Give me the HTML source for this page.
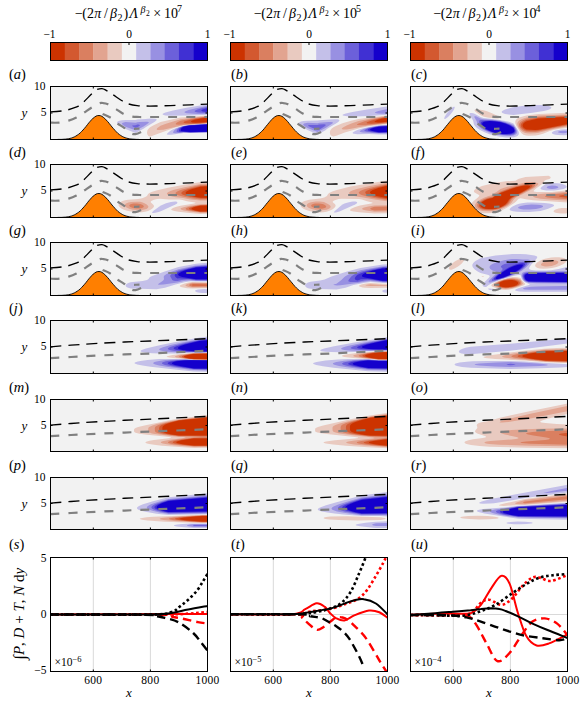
<!DOCTYPE html><html><head><meta charset="utf-8"><style>html,body{margin:0;padding:0;background:#fff;width:582px;height:703px;overflow:hidden}svg{display:block}text{font-family:"Liberation Serif",serif}</style></head><body>
<svg width="582" height="703" viewBox="0 0 582 703">
<text x="74.9" y="18.2" font-size="14">&#8722;</text>
<text x="82.3" y="18.2" font-size="14">(</text>
<text x="87.0" y="18.2" font-size="14">2</text>
<text x="94.2" y="18.2" font-size="14" font-style="italic">&#960;</text>
<text x="104.0" y="18.2" font-size="14">/</text>
<text x="110.1" y="18.2" font-size="14" font-style="italic">&#946;</text>
<text x="117.4" y="21.2" font-size="10">2</text>
<text x="123.5" y="18.2" font-size="14">)</text>
<text x="129.6" y="18.2" font-size="14" font-style="italic">&#923;</text>
<text x="140.4" y="12.7" font-size="10" font-style="italic">&#946;</text>
<text x="146.1" y="15.7" font-size="7.5">2</text>
<text x="153.3" y="18.2" font-size="14">&#215;</text>
<text x="164.1" y="18.2" font-size="14">10</text>
<text x="177.0" y="11.7" font-size="10">7</text>
<rect x="50.50" y="42.5" width="14.57" height="18.0" fill="#cc3300"/>
<rect x="64.77" y="42.5" width="14.57" height="18.0" fill="#d35930"/>
<rect x="79.05" y="42.5" width="14.57" height="18.0" fill="#da7f60"/>
<rect x="93.32" y="42.5" width="14.57" height="18.0" fill="#e2a490"/>
<rect x="107.59" y="42.5" width="14.57" height="18.0" fill="#e9cac0"/>
<rect x="121.86" y="42.5" width="14.57" height="18.0" fill="#f2f2f2"/>
<rect x="136.14" y="42.5" width="14.57" height="18.0" fill="#c4c0e9"/>
<rect x="150.41" y="42.5" width="14.57" height="18.0" fill="#9890e2"/>
<rect x="164.68" y="42.5" width="14.57" height="18.0" fill="#6c60da"/>
<rect x="178.95" y="42.5" width="14.57" height="18.0" fill="#4030d3"/>
<rect x="193.23" y="42.5" width="14.57" height="18.0" fill="#1400cc"/>
<rect x="50.5" y="42.5" width="157.0" height="18.0" fill="none" stroke="#000" stroke-width="1"/>
<line x1="129.0" y1="42.5" x2="129.0" y2="45.0" stroke="#000" stroke-width="1"/>
<text x="49.5" y="37.8" font-size="11.5" text-anchor="middle">&#8722;1</text>
<text x="129.0" y="37.8" font-size="11.5" text-anchor="middle">0</text>
<text x="207.5" y="37.8" font-size="11.5" text-anchor="middle">1</text>
<text x="253.9" y="18.2" font-size="14">&#8722;</text>
<text x="261.3" y="18.2" font-size="14">(</text>
<text x="266.0" y="18.2" font-size="14">2</text>
<text x="273.2" y="18.2" font-size="14" font-style="italic">&#960;</text>
<text x="283.0" y="18.2" font-size="14">/</text>
<text x="289.1" y="18.2" font-size="14" font-style="italic">&#946;</text>
<text x="296.4" y="21.2" font-size="10">2</text>
<text x="302.5" y="18.2" font-size="14">)</text>
<text x="308.6" y="18.2" font-size="14" font-style="italic">&#923;</text>
<text x="319.4" y="12.7" font-size="10" font-style="italic">&#946;</text>
<text x="325.1" y="15.7" font-size="7.5">2</text>
<text x="332.3" y="18.2" font-size="14">&#215;</text>
<text x="343.1" y="18.2" font-size="14">10</text>
<text x="356.0" y="11.7" font-size="10">5</text>
<rect x="230.50" y="42.5" width="14.57" height="18.0" fill="#cc3300"/>
<rect x="244.77" y="42.5" width="14.57" height="18.0" fill="#d35930"/>
<rect x="259.05" y="42.5" width="14.57" height="18.0" fill="#da7f60"/>
<rect x="273.32" y="42.5" width="14.57" height="18.0" fill="#e2a490"/>
<rect x="287.59" y="42.5" width="14.57" height="18.0" fill="#e9cac0"/>
<rect x="301.86" y="42.5" width="14.57" height="18.0" fill="#f2f2f2"/>
<rect x="316.14" y="42.5" width="14.57" height="18.0" fill="#c4c0e9"/>
<rect x="330.41" y="42.5" width="14.57" height="18.0" fill="#9890e2"/>
<rect x="344.68" y="42.5" width="14.57" height="18.0" fill="#6c60da"/>
<rect x="358.95" y="42.5" width="14.57" height="18.0" fill="#4030d3"/>
<rect x="373.23" y="42.5" width="14.57" height="18.0" fill="#1400cc"/>
<rect x="230.5" y="42.5" width="157.0" height="18.0" fill="none" stroke="#000" stroke-width="1"/>
<line x1="309.0" y1="42.5" x2="309.0" y2="45.0" stroke="#000" stroke-width="1"/>
<text x="229.5" y="37.8" font-size="11.5" text-anchor="middle">&#8722;1</text>
<text x="309.0" y="37.8" font-size="11.5" text-anchor="middle">0</text>
<text x="387.5" y="37.8" font-size="11.5" text-anchor="middle">1</text>
<text x="433.4" y="18.2" font-size="14">&#8722;</text>
<text x="440.8" y="18.2" font-size="14">(</text>
<text x="445.5" y="18.2" font-size="14">2</text>
<text x="452.7" y="18.2" font-size="14" font-style="italic">&#960;</text>
<text x="462.5" y="18.2" font-size="14">/</text>
<text x="468.6" y="18.2" font-size="14" font-style="italic">&#946;</text>
<text x="475.9" y="21.2" font-size="10">2</text>
<text x="482.0" y="18.2" font-size="14">)</text>
<text x="488.1" y="18.2" font-size="14" font-style="italic">&#923;</text>
<text x="498.9" y="12.7" font-size="10" font-style="italic">&#946;</text>
<text x="504.6" y="15.7" font-size="7.5">2</text>
<text x="511.8" y="18.2" font-size="14">&#215;</text>
<text x="522.6" y="18.2" font-size="14">10</text>
<text x="535.5" y="11.7" font-size="10">4</text>
<rect x="410.50" y="42.5" width="14.57" height="18.0" fill="#cc3300"/>
<rect x="424.77" y="42.5" width="14.57" height="18.0" fill="#d35930"/>
<rect x="439.05" y="42.5" width="14.57" height="18.0" fill="#da7f60"/>
<rect x="453.32" y="42.5" width="14.57" height="18.0" fill="#e2a490"/>
<rect x="467.59" y="42.5" width="14.57" height="18.0" fill="#e9cac0"/>
<rect x="481.86" y="42.5" width="14.57" height="18.0" fill="#f2f2f2"/>
<rect x="496.14" y="42.5" width="14.57" height="18.0" fill="#c4c0e9"/>
<rect x="510.41" y="42.5" width="14.57" height="18.0" fill="#9890e2"/>
<rect x="524.68" y="42.5" width="14.57" height="18.0" fill="#6c60da"/>
<rect x="538.95" y="42.5" width="14.57" height="18.0" fill="#4030d3"/>
<rect x="553.23" y="42.5" width="14.57" height="18.0" fill="#1400cc"/>
<rect x="410.5" y="42.5" width="157.0" height="18.0" fill="none" stroke="#000" stroke-width="1"/>
<line x1="489.0" y1="42.5" x2="489.0" y2="45.0" stroke="#000" stroke-width="1"/>
<text x="409.5" y="37.8" font-size="11.5" text-anchor="middle">&#8722;1</text>
<text x="489.0" y="37.8" font-size="11.5" text-anchor="middle">0</text>
<text x="567.5" y="37.8" font-size="11.5" text-anchor="middle">1</text>
<defs>
<clipPath id="cp00"><rect x="50.5" y="86.5" width="157.0" height="53.0"/></clipPath>
<clipPath id="cp01"><rect x="230.5" y="86.5" width="157.0" height="53.0"/></clipPath>
<clipPath id="cp02"><rect x="410.5" y="86.5" width="157.0" height="53.0"/></clipPath>
<clipPath id="cp10"><rect x="50.5" y="164.5" width="157.0" height="53.0"/></clipPath>
<clipPath id="cp11"><rect x="230.5" y="164.5" width="157.0" height="53.0"/></clipPath>
<clipPath id="cp12"><rect x="410.5" y="164.5" width="157.0" height="53.0"/></clipPath>
<clipPath id="cp20"><rect x="50.5" y="242.5" width="157.0" height="53.0"/></clipPath>
<clipPath id="cp21"><rect x="230.5" y="242.5" width="157.0" height="53.0"/></clipPath>
<clipPath id="cp22"><rect x="410.5" y="242.5" width="157.0" height="53.0"/></clipPath>
<clipPath id="cp30"><rect x="50.5" y="320.5" width="157.0" height="53.0"/></clipPath>
<clipPath id="cp31"><rect x="230.5" y="320.5" width="157.0" height="53.0"/></clipPath>
<clipPath id="cp32"><rect x="410.5" y="320.5" width="157.0" height="53.0"/></clipPath>
<clipPath id="cp40"><rect x="50.5" y="399.5" width="157.0" height="52.0"/></clipPath>
<clipPath id="cp41"><rect x="230.5" y="399.5" width="157.0" height="52.0"/></clipPath>
<clipPath id="cp42"><rect x="410.5" y="399.5" width="157.0" height="52.0"/></clipPath>
<clipPath id="cp50"><rect x="50.5" y="477.5" width="157.0" height="52.0"/></clipPath>
<clipPath id="cp51"><rect x="230.5" y="477.5" width="157.0" height="52.0"/></clipPath>
<clipPath id="cp52"><rect x="410.5" y="477.5" width="157.0" height="52.0"/></clipPath>
<clipPath id="lp0"><rect x="50.5" y="557.5" width="157.0" height="114.0"/></clipPath>
<clipPath id="lp1"><rect x="230.5" y="557.5" width="157.0" height="114.0"/></clipPath>
<clipPath id="lp2"><rect x="410.5" y="557.5" width="157.0" height="114.0"/></clipPath>
</defs>
<rect x="50.5" y="86.5" width="157.0" height="53.0" fill="#f2f2f2"/>
<g clip-path="url(#cp00)">
<path d="M206.1,104.5L209.5,104.2L209.5,115.8L208.0,115.8L207.5,114.8L190.5,115.4L171.0,115.8L165.5,115.4L163.6,115.0L162.7,114.5L162.6,114.0L163.2,113.5L165.4,112.5L173.0,110.4L186.5,107.7L206.1,104.5ZM145.5,119.0L150.5,118.6L155.0,118.7L156.0,118.9L156.5,119.3L156.7,119.5L156.6,120.0L156.2,120.5L154.4,122.0L146.0,127.0L143.5,128.8L137.5,132.1L135.5,133.0L125.5,128.9L122.5,127.3L118.7,125.0L117.6,124.0L117.1,123.0L117.2,122.0L118.0,121.2L119.5,120.7L122.0,120.2L125.5,119.9L135.5,120.0L137.5,119.6L145.5,119.0ZM207.9,123.5L208.0,123.3L209.5,123.3L209.5,132.7L190.5,133.1L183.5,133.0L171.5,134.7L168.5,134.8L166.9,134.5L166.9,134.0L167.7,133.0L170.1,131.0L171.6,130.0L176.2,128.0L183.5,125.7L190.5,124.8L207.5,123.8L207.9,123.5Z" fill="#c4c0e9" fill-rule="evenodd"/>
<path d="M200.2,116.0L207.5,115.5L207.9,117.0L208.0,120.0L207.9,123.0L207.5,123.6L190.0,124.7L183.5,125.4L175.5,127.6L169.7,129.5L150.5,136.6L149.5,136.4L148.5,135.9L147.6,135.0L147.2,134.0L147.0,132.5L147.4,130.5L147.9,129.5L149.2,128.0L150.5,127.0L153.1,125.5L160.5,121.9L180.5,117.6L200.2,116.0Z" fill="#e9cac0" fill-rule="evenodd"/>
<path d="M207.0,106.0L209.5,105.7L209.5,114.3L208.0,114.1L207.5,113.9L197.5,113.9L190.5,113.6L186.5,113.2L184.6,112.5L184.5,112.0L185.0,111.5L188.7,110.0L196.0,108.2L207.0,106.0ZM139.8,122.0L147.0,121.7L148.7,122.0L148.8,122.5L148.4,123.0L147.2,124.0L143.5,126.4L137.5,129.6L135.5,130.3L125.5,126.7L122.9,125.0L122.1,124.0L122.0,123.5L122.4,123.0L123.0,122.7L125.5,122.1L135.5,122.7L137.5,122.2L139.8,122.0ZM207.6,124.0L208.0,123.7L209.5,123.7L209.5,132.3L190.5,132.7L183.5,132.4L178.5,133.0L175.5,133.2L173.5,133.0L173.1,132.5L173.4,131.5L174.1,130.5L175.8,129.0L178.9,127.5L183.5,125.9L190.0,125.0L207.6,124.0Z" fill="#9890e2" fill-rule="evenodd"/>
<path d="M203.1,116.5L207.5,116.1L207.8,117.5L207.9,120.0L207.8,122.5L207.5,123.3L199.0,124.0L190.5,124.4L183.5,125.0L163.5,129.7L158.5,130.0L157.5,129.9L156.7,129.5L156.7,129.0L157.4,128.0L160.5,125.8L166.7,123.5L180.5,119.2L194.5,117.4L203.1,116.5Z" fill="#e2a490" fill-rule="evenodd"/>
<path d="M207.2,107.0L209.5,106.7L209.5,113.3L207.5,113.0L198.3,112.5L195.7,112.0L194.7,111.5L194.7,111.0L195.2,110.5L197.5,109.5L200.8,108.5L207.2,107.0ZM137.3,124.5L138.5,124.5L139.8,125.0L139.8,125.5L139.3,126.0L137.5,127.3L135.5,127.7L132.8,126.5L132.2,126.0L132.3,125.5L135.5,125.3L137.3,124.5ZM202.5,124.5L209.5,124.0L209.5,132.0L190.5,132.5L183.5,132.1L179.0,132.4L177.0,132.1L176.5,131.5L176.8,130.5L177.3,129.5L178.3,128.5L180.1,127.5L183.5,126.2L190.0,125.2L202.5,124.5Z" fill="#6c60da" fill-rule="evenodd"/>
<path d="M203.9,117.0L207.5,116.6L207.8,118.0L207.8,120.0L207.7,122.0L207.5,123.0L201.8,123.5L178.5,124.8L176.5,124.6L176.1,124.5L175.7,124.0L175.9,123.5L177.0,122.5L179.9,121.0L181.5,120.5L194.0,118.2L203.9,117.0Z" fill="#da7f60" fill-rule="evenodd"/>
<path d="M207.1,108.0L209.5,107.6L209.5,112.4L202.9,111.5L201.6,111.0L201.3,110.5L201.7,110.0L202.6,109.5L207.1,108.0ZM204.8,124.5L209.5,124.2L209.5,131.8L190.0,132.3L183.5,131.8L180.5,131.8L179.3,131.5L178.9,131.0L179.2,129.5L179.8,128.5L181.2,127.5L183.5,126.5L190.0,125.3L204.8,124.5Z" fill="#4030d3" fill-rule="evenodd"/>
<path d="M203.9,117.5L207.5,117.1L207.8,120.0L207.5,122.6L199.5,123.2L193.0,123.5L186.0,123.3L184.4,123.0L183.5,122.5L183.7,122.0L184.5,121.5L187.6,120.5L195.5,118.7L203.9,117.5Z" fill="#d35930" fill-rule="evenodd"/>
<path d="M209.5,108.5L209.5,111.5L206.6,110.5L206.4,110.0L206.8,109.5L207.7,109.0L209.5,108.5ZM207.1,124.5L209.5,124.4L209.5,131.6L190.0,132.1L182.0,131.3L181.0,131.0L180.7,130.5L181.0,129.0L181.6,128.0L183.1,127.0L185.5,126.3L190.5,125.4L207.1,124.5Z" fill="#1400cc" fill-rule="evenodd"/>
<path d="M203.8,118.0L207.5,117.5L207.7,120.0L207.5,122.1L200.5,122.6L195.5,122.7L192.5,122.4L191.2,122.0L191.0,121.5L191.4,121.0L192.3,120.5L195.5,119.5L203.8,118.0Z" fill="#cc3300" fill-rule="evenodd"/>
<path d="M50.5,111.8 C52.4,111.7 59.0,111.3 61.9,111.0 C64.8,110.7 65.3,110.6 68.1,109.8 C70.8,109.0 75.8,107.5 78.4,106.2 C81.0,104.9 81.4,104.1 83.6,102.0 C85.8,99.9 89.7,95.8 91.8,93.8 C93.9,91.8 94.3,90.9 96.0,90.0 C97.7,89.1 100.2,88.5 102.0,88.6 C103.8,88.7 105.0,89.8 106.7,90.7 C108.4,91.7 109.9,92.7 112.4,94.3 C114.9,95.9 119.1,99.0 121.6,100.5 C124.1,102.0 124.7,102.8 127.3,103.6 C129.9,104.4 134.2,105.2 137.1,105.6 C140.0,106.0 141.7,105.9 144.8,106.0 C147.9,106.1 151.4,106.1 155.7,106.0 C160.0,105.9 164.7,105.8 170.5,105.6 C176.3,105.4 184.3,105.0 190.5,104.8 C196.7,104.5 204.7,104.2 207.5,104.1" fill="none" stroke="#000" stroke-width="1.35" stroke-dasharray="11,7"/>
<path d="M50.5,122.7 C52.0,122.7 56.5,122.9 59.5,122.6 C62.5,122.2 65.8,121.4 68.6,120.6 C71.4,119.8 73.9,118.8 76.4,117.5 C78.9,116.2 81.1,114.5 83.6,112.9 C86.1,111.3 88.7,109.3 91.3,107.7 C93.9,106.1 97.0,104.2 99.0,103.4 C101.0,102.6 102.0,102.9 103.5,103.1 C105.0,103.2 106.0,103.4 108.0,104.3 C110.0,105.2 113.0,107.2 115.5,108.7 C118.0,110.2 120.0,112.1 122.7,113.4 C125.4,114.7 128.6,115.9 131.4,116.5 C134.2,117.1 135.3,116.9 139.7,117.0 C144.1,117.1 146.4,117.0 157.7,117.0 C169.0,117.0 199.2,117.0 207.5,117.0" fill="none" stroke="#808080" stroke-width="2.2" stroke-dasharray="9,9"/>
<path d="M102.6,113.9 C103.9,114.5 107.9,116.0 110.3,117.5 C112.7,119.0 114.7,121.5 117.0,123.2 C119.3,124.9 122.0,126.2 124.2,127.8 C126.5,129.4 128.6,131.9 130.5,133.0 C132.4,134.1 133.5,134.4 135.5,134.1 C137.5,133.8 140.9,132.1 142.3,131.4 C143.7,130.7 144.0,130.2 144.0,129.8 C144.0,129.4 144.0,129.0 142.3,128.8 C140.6,128.6 135.4,128.8 134.0,128.8" fill="none" stroke="#808080" stroke-width="2.2" stroke-dasharray="9,9"/>
<path d="M55.5,139.5 L57.0,139.5 L58.4,139.4 L59.9,139.4 L61.3,139.4 L62.8,139.3 L64.2,139.2 L65.7,139.1 L67.1,138.9 L68.5,138.7 L70.0,138.4 L71.5,138.0 L72.9,137.5 L74.3,136.9 L75.8,136.1 L77.2,135.2 L78.7,134.2 L80.2,132.9 L81.6,131.5 L83.0,130.0 L84.5,128.3 L86.0,126.5 L87.4,124.7 L88.8,122.9 L90.3,121.2 L91.8,119.5 L93.2,118.1 L94.7,117.0 L96.1,116.1 L97.5,115.6 L99.0,115.5 L100.5,115.7 L101.9,116.3 L103.3,117.3 L104.8,118.5 L106.2,120.0 L107.7,121.6 L109.2,123.4 L110.6,125.2 L112.0,127.0 L113.5,128.7 L115.0,130.4 L116.4,131.9 L117.8,133.3 L119.3,134.5 L120.8,135.5 L122.2,136.4 L123.7,137.1 L125.1,137.7 L126.5,138.1 L128.0,138.5 L129.4,138.8 L130.9,139.0 L132.3,139.1 L133.8,139.2 L135.2,139.3 L136.7,139.4 L138.2,139.4 L139.6,139.5 L141.1,139.5 L142.5,139.5 Z" fill="#ff7f00" stroke="#000" stroke-width="0.9"/>
</g>
<rect x="50.5" y="86.5" width="157.0" height="53.0" fill="none" stroke="#000" stroke-width="1"/>
<line x1="93.3" y1="86.5" x2="93.3" y2="88.5" stroke="#000" stroke-width="1"/>
<line x1="93.3" y1="139.5" x2="93.3" y2="137.5" stroke="#000" stroke-width="1"/>
<line x1="150.4" y1="86.5" x2="150.4" y2="88.5" stroke="#000" stroke-width="1"/>
<line x1="150.4" y1="139.5" x2="150.4" y2="137.5" stroke="#000" stroke-width="1"/>
<line x1="50.5" y1="113.0" x2="52.5" y2="113.0" stroke="#000" stroke-width="1"/>
<line x1="207.5" y1="113.0" x2="205.5" y2="113.0" stroke="#000" stroke-width="1"/>
<text x="9" y="78.7" font-size="14.5">(<tspan font-style="italic">a</tspan>)</text>
<text x="45.5" y="90.3" font-size="11.5" text-anchor="end">10</text>
<text x="46.5" y="116.3" font-size="11.5" text-anchor="end">5</text>
<text x="21.5" y="117.0" font-size="13" font-style="italic">y</text>
<rect x="230.5" y="86.5" width="157.0" height="53.0" fill="#f2f2f2"/>
<g clip-path="url(#cp01)">
<path d="M386.7,106.5L389.5,106.3L389.5,117.7L388.0,117.7L387.9,116.0L387.5,114.7L369.3,116.0L354.5,116.5L349.5,116.4L345.5,116.1L342.9,115.5L342.5,115.0L343.0,114.5L345.8,113.5L352.4,112.0L365.5,109.7L386.7,106.5ZM329.5,119.5L334.0,119.2L337.5,119.3L338.5,119.5L339.2,120.0L339.4,120.5L339.2,121.0L338.2,122.0L336.8,123.0L329.2,127.5L326.9,129.0L325.5,130.2L320.0,133.3L317.5,134.4L307.5,130.1L304.0,128.2L300.4,126.0L299.4,125.0L298.8,124.0L298.8,123.0L299.5,122.3L301.0,121.6L303.5,121.1L307.5,120.7L317.5,120.6L319.5,120.2L329.5,119.5ZM388.0,124.0L388.0,123.8L389.5,123.8L389.5,134.4L379.0,134.6L369.0,134.0L357.5,134.2L354.0,133.8L353.0,133.5L352.6,133.0L352.8,132.5L353.4,132.0L356.2,130.5L358.9,129.5L364.4,128.0L369.0,126.9L375.5,125.8L379.0,125.3L387.5,124.7L388.0,124.0Z" fill="#c4c0e9" fill-rule="evenodd"/>
<path d="M386.1,115.5L387.5,115.3L387.8,116.5L387.9,122.0L387.8,123.5L387.5,124.1L379.0,124.9L369.0,126.3L358.5,128.4L344.8,132.5L337.0,135.5L333.5,136.4L332.0,136.1L331.0,135.5L330.5,135.0L330.1,134.0L329.9,132.5L330.1,131.0L330.5,130.0L331.8,128.5L333.5,127.2L335.9,126.0L342.5,123.3L351.0,120.8L358.5,119.1L386.1,115.5Z" fill="#e9cac0" fill-rule="evenodd"/>
<path d="M387.3,109.0L389.5,108.7L389.5,115.3L388.0,115.1L387.5,113.7L382.0,113.8L377.5,113.5L375.2,113.0L374.9,112.5L375.6,112.0L378.4,111.0L387.3,109.0ZM328.5,122.0L331.0,122.0L332.5,122.2L332.9,122.5L332.8,123.0L332.4,123.5L325.5,127.9L319.5,131.1L317.5,131.9L307.5,128.0L304.3,126.0L303.3,125.0L303.2,124.5L303.4,124.0L304.1,123.5L307.5,122.8L317.5,123.2L319.5,122.7L328.5,122.0ZM387.8,125.0L388.0,124.8L389.5,124.8L389.5,133.4L379.0,133.6L369.0,132.7L363.0,132.4L360.5,132.0L359.7,131.5L359.9,131.0L361.4,130.0L363.9,129.0L369.0,127.4L379.0,125.7L387.5,125.2L387.8,125.0Z" fill="#9890e2" fill-rule="evenodd"/>
<path d="M386.7,116.0L387.5,115.9L387.8,117.5L387.8,121.5L387.5,123.5L369.0,125.6L358.5,127.2L352.5,128.5L346.6,129.5L343.0,129.5L341.8,129.0L341.8,128.5L342.9,127.5L346.6,125.5L351.4,123.5L358.5,121.1L369.5,118.7L386.7,116.0Z" fill="#e2a490" fill-rule="evenodd"/>
<path d="M389.4,111.5L389.5,112.5L389.1,112.0L389.4,111.5ZM319.2,124.5L324.0,124.3L325.3,124.5L325.8,125.0L325.5,125.5L325.0,126.0L322.8,127.5L319.5,129.4L317.5,129.9L310.3,127.0L308.3,126.0L307.9,125.5L308.5,125.2L309.5,125.0L317.5,125.1L319.2,124.5ZM387.8,125.5L389.5,125.4L389.5,132.8L379.0,133.0L377.5,132.9L366.4,131.5L364.7,131.0L364.4,130.5L364.7,130.0L366.4,129.0L369.0,128.0L371.5,127.4L379.0,126.1L387.8,125.5Z" fill="#6c60da" fill-rule="evenodd"/>
<path d="M386.8,116.5L387.5,116.4L387.7,117.5L387.8,120.5L387.5,122.9L365.0,125.3L362.0,125.3L357.0,125.0L357.0,124.5L358.4,123.5L365.1,121.0L372.5,119.2L386.8,116.5Z" fill="#da7f60" fill-rule="evenodd"/>
<path d="M386.9,126.0L389.5,125.9L389.5,132.3L378.0,132.4L370.5,131.3L368.0,130.5L367.6,130.0L367.9,129.5L368.6,129.0L369.7,128.5L375.0,127.1L379.0,126.4L386.9,126.0Z" fill="#4030d3" fill-rule="evenodd"/>
<path d="M386.8,117.0L387.5,116.9L387.6,117.5L387.7,120.0L387.5,122.3L381.0,123.1L371.5,123.7L367.5,123.5L366.5,123.0L366.8,122.5L367.6,122.0L371.7,120.5L379.3,118.5L386.8,117.0Z" fill="#d35930" fill-rule="evenodd"/>
<path d="M382.9,126.5L389.5,126.3L389.5,131.9L379.0,132.2L372.5,131.1L370.8,130.5L370.1,130.0L370.1,129.5L370.6,129.0L373.1,128.0L379.0,126.7L382.9,126.5Z" fill="#1400cc" fill-rule="evenodd"/>
<path d="M386.8,117.5L387.5,117.4L387.5,117.5L387.7,119.5L387.5,121.8L382.0,122.3L378.0,122.4L374.8,122.0L374.5,121.5L376.1,120.5L378.7,119.5L386.8,117.5Z" fill="#cc3300" fill-rule="evenodd"/>
<path d="M230.5,111.8 C232.4,111.7 239.0,111.3 241.9,111.0 C244.8,110.7 245.3,110.6 248.1,109.8 C250.8,109.0 255.8,107.5 258.4,106.2 C261.0,104.9 261.4,104.1 263.6,102.0 C265.8,99.9 269.7,95.8 271.8,93.8 C273.9,91.8 274.3,90.9 276.0,90.0 C277.7,89.1 280.2,88.5 282.0,88.6 C283.8,88.7 285.0,89.8 286.7,90.7 C288.4,91.7 289.9,92.7 292.4,94.3 C294.9,95.9 299.1,99.0 301.6,100.5 C304.1,102.0 304.7,102.8 307.3,103.6 C309.9,104.4 314.2,105.2 317.1,105.6 C320.0,106.0 321.7,105.9 324.8,106.0 C327.9,106.1 331.4,106.1 335.7,106.0 C340.0,105.9 344.7,105.8 350.5,105.6 C356.3,105.4 364.3,105.0 370.5,104.8 C376.7,104.5 384.7,104.2 387.5,104.1" fill="none" stroke="#000" stroke-width="1.35" stroke-dasharray="11,7"/>
<path d="M230.5,122.7 C232.0,122.7 236.5,122.9 239.5,122.6 C242.5,122.2 245.8,121.4 248.6,120.6 C251.4,119.8 253.9,118.8 256.4,117.5 C258.9,116.2 261.1,114.5 263.6,112.9 C266.1,111.3 268.7,109.3 271.3,107.7 C273.9,106.1 277.0,104.2 279.0,103.4 C281.0,102.6 282.0,102.9 283.5,103.1 C285.0,103.2 286.0,103.4 288.0,104.3 C290.0,105.2 293.1,107.2 295.5,108.7 C297.9,110.2 300.1,112.1 302.7,113.4 C305.3,114.7 308.6,115.9 311.4,116.5 C314.2,117.1 315.3,116.9 319.7,117.0 C324.1,117.1 326.4,117.0 337.7,117.0 C349.0,117.0 379.2,117.0 387.5,117.0" fill="none" stroke="#808080" stroke-width="2.2" stroke-dasharray="9,9"/>
<path d="M282.6,113.9 C283.9,114.5 287.9,116.0 290.3,117.5 C292.7,119.0 294.7,121.5 297.0,123.2 C299.3,124.9 301.9,126.2 304.2,127.8 C306.4,129.4 308.6,131.9 310.5,133.0 C312.4,134.1 313.5,134.4 315.5,134.1 C317.5,133.8 320.9,132.1 322.3,131.4 C323.7,130.7 324.0,130.2 324.0,129.8 C324.0,129.4 324.0,129.0 322.3,128.8 C320.6,128.6 315.4,128.8 314.0,128.8" fill="none" stroke="#808080" stroke-width="2.2" stroke-dasharray="9,9"/>
<path d="M235.5,139.5 L236.9,139.5 L238.4,139.4 L239.8,139.4 L241.3,139.4 L242.8,139.3 L244.2,139.2 L245.7,139.1 L247.1,138.9 L248.6,138.7 L250.0,138.4 L251.4,138.0 L252.9,137.5 L254.3,136.9 L255.8,136.1 L257.2,135.2 L258.7,134.2 L260.1,132.9 L261.6,131.5 L263.1,130.0 L264.5,128.3 L265.9,126.5 L267.4,124.7 L268.9,122.9 L270.3,121.2 L271.8,119.5 L273.2,118.1 L274.6,117.0 L276.1,116.1 L277.6,115.6 L279.0,115.5 L280.4,115.7 L281.9,116.3 L283.4,117.3 L284.8,118.5 L286.2,120.0 L287.7,121.6 L289.1,123.4 L290.6,125.2 L292.1,127.0 L293.5,128.7 L294.9,130.4 L296.4,131.9 L297.9,133.3 L299.3,134.5 L300.8,135.5 L302.2,136.4 L303.6,137.1 L305.1,137.7 L306.6,138.1 L308.0,138.5 L309.4,138.8 L310.9,139.0 L312.4,139.1 L313.8,139.2 L315.2,139.3 L316.7,139.4 L318.1,139.4 L319.6,139.5 L321.1,139.5 L322.5,139.5 Z" fill="#ff7f00" stroke="#000" stroke-width="0.9"/>
</g>
<rect x="230.5" y="86.5" width="157.0" height="53.0" fill="none" stroke="#000" stroke-width="1"/>
<line x1="273.3" y1="86.5" x2="273.3" y2="88.5" stroke="#000" stroke-width="1"/>
<line x1="273.3" y1="139.5" x2="273.3" y2="137.5" stroke="#000" stroke-width="1"/>
<line x1="330.4" y1="86.5" x2="330.4" y2="88.5" stroke="#000" stroke-width="1"/>
<line x1="330.4" y1="139.5" x2="330.4" y2="137.5" stroke="#000" stroke-width="1"/>
<line x1="230.5" y1="113.0" x2="232.5" y2="113.0" stroke="#000" stroke-width="1"/>
<line x1="387.5" y1="113.0" x2="385.5" y2="113.0" stroke="#000" stroke-width="1"/>
<text x="231.0" y="78.7" font-size="14.5">(<tspan font-style="italic">b</tspan>)</text>
<rect x="410.5" y="86.5" width="157.0" height="53.0" fill="#f2f2f2"/>
<g clip-path="url(#cp02)">
<path d="M535.8,105.0L541.0,105.1L545.5,105.4L548.6,106.0L550.1,106.5L550.9,107.0L551.3,107.5L551.3,108.0L550.3,109.0L547.9,110.0L543.8,111.0L532.5,112.7L513.5,115.0L508.5,114.6L505.0,114.0L502.5,113.0L501.9,112.5L501.7,112.0L501.8,111.5L502.2,111.0L505.0,109.5L508.5,108.4L513.0,107.3L518.5,106.4L524.0,105.7L530.0,105.2L535.8,105.0ZM453.2,107.0L454.0,106.7L454.5,106.7L454.7,107.0L454.7,107.5L454.0,109.5L452.4,112.0L450.4,114.5L448.0,117.0L446.0,118.5L445.0,119.0L444.5,119.0L444.2,118.5L444.6,117.0L446.7,113.5L450.0,109.6L452.0,107.8L453.2,107.0ZM470.2,113.0L472.0,112.9L474.0,113.5L481.0,117.2L483.5,118.0L498.0,119.8L504.0,120.7L509.0,121.8L513.5,123.4L516.9,128.5L518.3,131.0L518.9,133.0L518.7,134.5L518.0,135.4L517.0,136.2L514.0,137.3L510.5,137.6L506.0,137.4L500.5,136.8L495.0,135.7L489.5,134.2L484.5,132.3L480.5,130.3L478.0,128.7L475.9,127.0L474.6,125.5L473.8,124.0L473.2,121.0L472.8,120.0L470.5,116.5L469.7,115.0L469.5,114.0L469.6,113.5L470.2,113.0ZM567.7,129.0L568.0,128.6L569.5,128.8L569.5,134.8L564.0,135.3L558.0,135.1L555.5,134.7L553.5,134.2L552.1,133.5L551.8,133.0L551.9,132.5L553.1,131.5L555.8,130.5L561.0,129.5L567.5,129.2L567.7,129.0Z" fill="#c4c0e9" fill-rule="evenodd"/>
<path d="M475.3,109.5L477.5,109.4L480.5,109.7L483.5,110.3L487.0,111.3L492.0,113.3L496.7,115.5L499.2,117.0L499.7,117.5L499.8,118.0L499.0,118.3L497.5,118.5L493.5,118.3L487.3,117.5L483.2,116.5L480.1,115.0L475.7,112.0L474.5,110.5L474.5,110.0L475.3,109.5ZM561.1,113.0L567.5,112.8L567.9,115.0L568.0,120.5L567.9,125.5L567.5,127.7L558.5,128.9L553.1,130.0L549.8,131.0L543.0,133.7L538.5,135.0L535.5,135.5L528.5,135.8L526.0,135.6L523.5,134.7L521.5,133.2L519.5,130.7L516.4,126.0L515.4,123.5L515.2,122.0L515.4,121.0L515.9,120.0L516.7,119.0L518.0,118.1L519.2,117.5L523.5,116.2L526.5,115.6L538.5,114.1L561.1,113.0Z" fill="#e9cac0" fill-rule="evenodd"/>
<path d="M474.3,116.5L475.0,116.2L476.0,116.3L480.5,118.4L482.5,119.0L484.5,119.3L492.5,119.8L499.0,120.6L504.5,121.8L509.5,123.3L513.5,125.1L514.5,126.4L516.0,128.5L516.7,130.0L517.2,131.5L517.0,133.0L516.5,133.8L515.7,134.5L513.5,135.5L510.5,135.9L507.0,136.0L502.5,135.6L497.5,134.8L493.0,133.7L488.5,132.3L483.0,129.7L480.5,128.0L478.9,126.5L477.6,124.5L476.6,121.0L474.5,117.5L474.3,116.5ZM560.2,131.0L563.0,130.7L566.0,130.8L568.0,131.3L568.4,131.5L568.4,132.0L567.8,132.5L565.5,133.1L563.0,133.2L560.5,133.1L558.5,132.6L558.2,132.5L558.0,132.0L558.6,131.5L560.2,131.0Z" fill="#9890e2" fill-rule="evenodd"/>
<path d="M567.5,114.5L567.8,116.5L567.9,120.0L567.8,124.0L567.5,126.4L553.4,129.0L538.5,132.8L535.5,133.2L529.5,133.4L526.5,133.2L524.5,132.7L522.5,131.7L520.5,130.0L518.5,127.5L517.4,125.0L517.3,123.5L517.6,122.5L518.2,121.5L519.2,120.5L522.0,118.9L526.5,117.4L538.5,115.6L567.5,114.5Z" fill="#e2a490" fill-rule="evenodd"/>
<path d="M479.4,120.5L480.0,120.2L481.0,120.1L492.5,120.3L499.5,121.3L505.5,122.7L510.0,124.4L513.5,126.2L514.8,128.0L515.6,129.5L516.0,131.0L515.9,132.0L515.5,132.9L515.0,133.4L513.5,134.4L511.0,134.9L508.0,135.1L505.0,135.1L501.0,134.7L496.5,133.9L492.5,132.8L489.5,131.8L486.0,130.2L483.5,128.8L481.2,127.0L480.0,125.5L479.3,124.0L479.1,122.0L479.2,121.0L479.4,120.5Z" fill="#6c60da" fill-rule="evenodd"/>
<path d="M567.0,115.5L567.5,115.5L567.8,118.0L567.8,122.5L567.5,125.5L551.9,128.5L538.5,131.5L535.5,131.9L531.0,132.0L526.5,131.7L523.5,130.7L522.0,129.7L520.7,128.5L519.6,127.0L519.1,125.5L519.0,124.5L519.3,123.5L520.5,121.9L523.0,120.2L526.5,118.8L538.5,116.8L567.0,115.5Z" fill="#da7f60" fill-rule="evenodd"/>
<path d="M484.3,121.0L489.0,120.7L494.0,120.9L500.0,121.8L505.5,123.2L510.0,125.1L513.5,127.2L514.8,129.5L515.1,130.5L515.0,131.5L514.5,132.5L513.5,133.4L513.0,133.6L510.5,134.2L507.0,134.5L503.0,134.4L499.0,133.8L494.5,132.8L491.5,131.9L488.5,130.7L485.5,129.2L483.1,127.5L481.7,126.0L481.1,125.0L480.8,124.0L480.8,123.0L481.0,122.3L482.0,121.5L484.3,121.0Z" fill="#4030d3" fill-rule="evenodd"/>
<path d="M562.6,116.5L567.5,116.2L567.8,120.5L567.5,124.8L550.6,128.0L538.5,130.5L535.5,130.8L529.5,130.8L526.0,130.4L524.0,129.6L522.5,128.5L521.5,127.4L520.8,126.0L520.8,125.0L521.0,124.0L522.2,122.5L525.0,120.7L526.5,120.0L528.0,119.7L538.5,117.7L562.6,116.5Z" fill="#d35930" fill-rule="evenodd"/>
<path d="M485.7,121.5L490.0,121.1L495.0,121.4L500.5,122.3L505.5,123.7L509.5,125.4L512.8,127.5L513.5,128.2L514.1,129.5L514.3,130.5L514.1,131.5L513.3,132.5L511.5,133.3L509.0,133.8L506.0,134.0L502.5,133.9L498.5,133.3L494.5,132.4L491.5,131.4L488.5,130.2L485.5,128.5L483.7,127.0L482.5,125.5L482.1,124.0L482.5,122.8L483.7,122.0L485.7,121.5Z" fill="#1400cc" fill-rule="evenodd"/>
<path d="M566.1,117.0L567.5,116.9L567.7,120.5L567.5,124.1L538.5,129.7L535.5,129.9L530.5,129.8L526.5,129.4L525.0,128.7L523.9,128.0L523.0,127.0L522.6,126.0L522.6,125.0L523.0,124.0L523.8,123.0L525.5,121.8L527.5,120.9L534.0,119.4L538.5,118.5L566.1,117.0Z" fill="#cc3300" fill-rule="evenodd"/>
<path d="M410.5,111.8 C412.4,111.7 419.0,111.3 421.9,111.0 C424.8,110.7 425.4,110.6 428.1,109.8 C430.9,109.0 435.8,107.5 438.4,106.2 C441.0,104.9 441.4,104.1 443.6,102.0 C445.8,99.9 449.7,95.8 451.8,93.8 C453.9,91.8 454.3,90.9 456.0,90.0 C457.7,89.1 460.2,88.5 462.0,88.6 C463.8,88.7 465.0,89.8 466.7,90.7 C468.4,91.7 469.9,92.7 472.4,94.3 C474.9,95.9 479.1,99.0 481.6,100.5 C484.1,102.0 484.7,102.8 487.3,103.6 C489.9,104.4 494.2,105.2 497.1,105.6 C500.0,106.0 501.7,105.9 504.8,106.0 C507.9,106.1 511.4,106.1 515.7,106.0 C520.0,105.9 524.7,105.8 530.5,105.6 C536.3,105.4 544.3,105.0 550.5,104.8 C556.7,104.5 564.7,104.2 567.5,104.1" fill="none" stroke="#000" stroke-width="1.35" stroke-dasharray="11,7"/>
<path d="M410.5,122.7 C412.0,122.7 416.5,122.9 419.5,122.6 C422.5,122.2 425.8,121.4 428.6,120.6 C431.4,119.8 433.9,118.8 436.4,117.5 C438.9,116.2 441.1,114.5 443.6,112.9 C446.1,111.3 448.7,109.3 451.3,107.7 C453.9,106.1 457.0,104.2 459.0,103.4 C461.0,102.6 462.0,102.9 463.5,103.1 C465.0,103.2 466.0,103.4 468.0,104.3 C470.0,105.2 473.1,107.2 475.5,108.7 C477.9,110.2 480.1,112.1 482.7,113.4 C485.3,114.7 488.6,115.9 491.4,116.5 C494.2,117.1 495.3,116.9 499.7,117.0 C504.1,117.1 506.4,117.0 517.7,117.0 C529.0,117.0 559.2,117.0 567.5,117.0" fill="none" stroke="#808080" stroke-width="2.2" stroke-dasharray="9,9"/>
<path d="M462.6,113.9 C463.9,114.5 467.9,116.0 470.3,117.5 C472.7,119.0 474.7,121.5 477.0,123.2 C479.3,124.9 481.9,126.2 484.2,127.8 C486.4,129.4 488.6,131.9 490.5,133.0 C492.4,134.1 493.5,134.4 495.5,134.1 C497.5,133.8 500.9,132.1 502.3,131.4 C503.7,130.7 504.0,130.2 504.0,129.8 C504.0,129.4 504.0,129.0 502.3,128.8 C500.6,128.6 495.4,128.8 494.0,128.8" fill="none" stroke="#808080" stroke-width="2.2" stroke-dasharray="9,9"/>
<path d="M415.5,139.5 L416.9,139.5 L418.4,139.4 L419.9,139.4 L421.3,139.4 L422.8,139.3 L424.2,139.2 L425.6,139.1 L427.1,138.9 L428.6,138.7 L430.0,138.4 L431.4,138.0 L432.9,137.5 L434.4,136.9 L435.8,136.1 L437.2,135.2 L438.7,134.2 L440.1,132.9 L441.6,131.5 L443.1,130.0 L444.5,128.3 L445.9,126.5 L447.4,124.7 L448.9,122.9 L450.3,121.2 L451.8,119.5 L453.2,118.1 L454.6,117.0 L456.1,116.1 L457.6,115.6 L459.0,115.5 L460.4,115.7 L461.9,116.3 L463.4,117.3 L464.8,118.5 L466.2,120.0 L467.7,121.6 L469.1,123.4 L470.6,125.2 L472.1,127.0 L473.5,128.7 L474.9,130.4 L476.4,131.9 L477.9,133.3 L479.3,134.5 L480.8,135.5 L482.2,136.4 L483.6,137.1 L485.1,137.7 L486.6,138.1 L488.0,138.5 L489.4,138.8 L490.9,139.0 L492.4,139.1 L493.8,139.2 L495.2,139.3 L496.7,139.4 L498.1,139.4 L499.6,139.5 L501.1,139.5 L502.5,139.5 Z" fill="#ff7f00" stroke="#000" stroke-width="0.9"/>
</g>
<rect x="410.5" y="86.5" width="157.0" height="53.0" fill="none" stroke="#000" stroke-width="1"/>
<line x1="453.3" y1="86.5" x2="453.3" y2="88.5" stroke="#000" stroke-width="1"/>
<line x1="453.3" y1="139.5" x2="453.3" y2="137.5" stroke="#000" stroke-width="1"/>
<line x1="510.4" y1="86.5" x2="510.4" y2="88.5" stroke="#000" stroke-width="1"/>
<line x1="510.4" y1="139.5" x2="510.4" y2="137.5" stroke="#000" stroke-width="1"/>
<line x1="410.5" y1="113.0" x2="412.5" y2="113.0" stroke="#000" stroke-width="1"/>
<line x1="567.5" y1="113.0" x2="565.5" y2="113.0" stroke="#000" stroke-width="1"/>
<text x="411.0" y="78.7" font-size="14.5">(<tspan font-style="italic">c</tspan>)</text>
<rect x="50.5" y="164.5" width="157.0" height="53.0" fill="#f2f2f2"/>
<g clip-path="url(#cp10)">
<path d="M170.9,202.0L175.0,201.5L176.0,201.6L177.1,202.0L177.4,202.5L177.3,203.0L176.9,203.5L175.4,204.5L163.0,210.2L159.5,211.7L156.5,212.6L154.0,213.0L152.5,213.0L152.0,212.6L152.3,212.0L153.9,210.5L159.0,206.8L161.5,205.3L166.0,203.3L170.9,202.0Z" fill="#c4c0e9" fill-rule="evenodd"/>
<path d="M206.8,181.5L209.5,181.4L209.5,213.8L200.5,213.9L192.0,213.2L178.5,211.7L174.3,211.0L172.0,210.3L171.4,210.0L171.2,209.5L171.5,209.0L173.0,208.0L175.6,207.0L180.5,205.7L191.2,204.0L194.0,203.5L195.6,203.0L195.1,202.5L187.0,201.3L182.5,199.9L179.5,199.4L169.0,199.4L160.0,198.7L157.0,199.0L154.0,199.8L151.3,201.0L150.8,201.5L150.7,202.0L150.9,202.5L153.1,204.5L153.9,205.5L154.0,206.5L153.0,208.0L151.0,209.5L148.0,210.9L145.0,211.8L142.0,212.2L138.5,212.4L135.0,212.2L131.0,211.6L127.0,210.8L124.0,209.8L121.4,208.5L119.5,207.0L118.6,205.5L118.7,204.0L119.4,203.0L120.7,202.0L122.5,201.1L125.0,200.3L128.0,199.8L138.1,199.0L141.0,198.5L142.9,198.0L146.2,196.5L147.3,195.5L148.1,194.0L149.4,193.0L151.5,192.0L156.3,190.5L168.0,187.8L184.0,184.8L200.5,182.0L206.8,181.5Z" fill="#e9cac0" fill-rule="evenodd"/>
<path d="M200.5,184.0L209.5,183.5L209.5,200.5L200.5,200.6L190.5,199.4L183.0,198.1L176.0,197.2L172.3,196.5L169.5,195.7L168.0,195.0L166.9,194.0L166.9,193.5L167.1,193.0L168.4,192.0L170.5,191.0L174.0,189.8L184.5,187.2L200.5,184.0ZM130.9,202.0L137.0,201.7L140.0,201.8L142.0,202.2L144.5,203.2L146.7,204.5L148.2,206.0L148.4,207.0L147.8,208.0L146.5,208.9L144.5,209.6L142.0,210.0L139.0,210.2L136.0,210.1L133.0,209.7L130.0,209.0L127.5,208.1L125.7,207.0L124.9,206.0L124.8,205.0L125.3,204.0L126.5,203.2L128.4,202.5L130.9,202.0ZM198.4,204.5L200.5,204.2L209.5,204.1L209.5,212.8L200.5,212.8L191.0,211.8L183.7,210.5L181.5,209.8L180.5,209.0L180.6,208.5L181.2,208.0L184.5,206.9L190.0,205.8L198.4,204.5Z" fill="#e2a490" fill-rule="evenodd"/>
<path d="M202.5,185.0L209.5,184.7L209.5,199.3L200.5,199.4L191.5,198.2L182.7,196.5L179.0,195.6L176.4,194.5L175.6,193.5L175.6,193.0L175.9,192.5L177.2,191.5L179.4,190.5L182.3,189.5L193.0,186.7L200.5,185.1L202.5,185.0ZM133.2,203.5L137.0,203.4L140.4,204.0L142.7,205.0L143.5,205.7L143.8,206.5L143.7,207.0L143.0,207.6L142.0,208.0L140.0,208.5L136.5,208.5L133.0,208.0L130.4,207.0L129.7,206.5L129.4,206.0L129.3,205.5L129.5,204.9L130.5,204.2L133.2,203.5ZM199.6,205.0L209.5,204.8L209.5,212.2L200.5,212.3L196.5,211.8L189.0,210.5L187.0,209.9L186.2,209.5L185.6,209.0L185.7,208.5L186.2,208.0L188.9,207.0L194.0,205.9L199.6,205.0Z" fill="#da7f60" fill-rule="evenodd"/>
<path d="M200.7,186.0L209.5,185.6L209.5,198.4L201.0,198.6L194.5,197.6L190.0,196.7L185.1,195.5L182.5,194.5L181.4,193.5L181.3,193.0L181.9,192.0L183.4,191.0L185.7,190.0L191.5,188.2L200.7,186.0ZM199.5,205.5L200.5,205.3L209.5,205.2L209.5,211.7L200.0,211.8L193.0,210.6L189.6,209.5L189.0,209.0L189.0,208.5L189.5,208.0L190.6,207.5L194.1,206.5L199.5,205.5Z" fill="#d35930" fill-rule="evenodd"/>
<path d="M204.4,186.5L209.5,186.3L209.5,197.7L201.0,197.8L195.9,197.0L191.5,196.0L188.3,195.0L186.3,194.0L185.8,193.5L185.6,193.0L185.6,192.5L186.5,191.5L188.3,190.5L190.8,189.5L195.0,188.2L200.5,186.8L204.4,186.5ZM198.9,206.0L200.5,205.7L209.5,205.6L209.5,211.3L200.5,211.4L195.2,210.5L192.2,209.5L191.6,209.0L191.5,208.5L192.0,208.0L194.5,207.0L198.9,206.0Z" fill="#cc3300" fill-rule="evenodd"/>
<path d="M50.5,189.8 C52.4,189.7 59.0,189.3 61.9,189.0 C64.8,188.7 65.3,188.6 68.1,187.8 C70.8,187.0 75.8,185.5 78.4,184.2 C81.0,182.9 81.4,182.1 83.6,180.0 C85.8,177.9 89.7,173.8 91.8,171.8 C93.9,169.8 94.3,168.9 96.0,168.0 C97.7,167.1 100.2,166.5 102.0,166.6 C103.8,166.7 105.0,167.8 106.7,168.7 C108.4,169.6 109.9,170.7 112.4,172.3 C114.9,173.9 119.1,176.9 121.6,178.5 C124.1,180.1 124.7,180.8 127.3,181.6 C129.9,182.4 134.2,183.2 137.1,183.6 C140.0,184.0 141.7,183.9 144.8,184.0 C147.9,184.1 151.4,184.1 155.7,184.0 C160.0,183.9 164.7,183.8 170.5,183.6 C176.3,183.4 184.3,183.1 190.5,182.8 C196.7,182.6 204.7,182.2 207.5,182.1" fill="none" stroke="#000" stroke-width="1.35" stroke-dasharray="11,7"/>
<path d="M50.5,200.7 C52.0,200.7 56.5,200.9 59.5,200.6 C62.5,200.2 65.8,199.4 68.6,198.6 C71.4,197.8 73.9,196.8 76.4,195.5 C78.9,194.2 81.1,192.5 83.6,190.9 C86.1,189.3 88.7,187.3 91.3,185.7 C93.9,184.1 97.0,182.2 99.0,181.4 C101.0,180.6 102.0,180.9 103.5,181.1 C105.0,181.2 106.0,181.4 108.0,182.3 C110.0,183.2 113.0,185.2 115.5,186.7 C118.0,188.2 120.0,190.1 122.7,191.4 C125.4,192.7 128.6,193.9 131.4,194.5 C134.2,195.1 135.3,194.9 139.7,195.0 C144.1,195.1 146.4,195.0 157.7,195.0 C169.0,195.0 199.2,195.0 207.5,195.0" fill="none" stroke="#808080" stroke-width="2.2" stroke-dasharray="9,9"/>
<path d="M102.6,191.9 C103.9,192.5 107.9,193.9 110.3,195.5 C112.7,197.1 114.7,199.5 117.0,201.2 C119.3,202.9 122.0,204.2 124.2,205.8 C126.5,207.4 128.6,209.9 130.5,211.0 C132.4,212.1 133.5,212.4 135.5,212.1 C137.5,211.8 140.9,210.1 142.3,209.4 C143.7,208.7 144.0,208.2 144.0,207.8 C144.0,207.4 144.0,207.0 142.3,206.8 C140.6,206.6 135.4,206.8 134.0,206.8" fill="none" stroke="#808080" stroke-width="2.2" stroke-dasharray="9,9"/>
<path d="M55.5,217.5 L57.0,217.5 L58.4,217.4 L59.9,217.4 L61.3,217.4 L62.8,217.3 L64.2,217.2 L65.7,217.1 L67.1,216.9 L68.5,216.7 L70.0,216.4 L71.5,216.0 L72.9,215.5 L74.3,214.9 L75.8,214.1 L77.2,213.2 L78.7,212.2 L80.2,210.9 L81.6,209.5 L83.0,208.0 L84.5,206.3 L86.0,204.5 L87.4,202.7 L88.8,200.9 L90.3,199.2 L91.8,197.5 L93.2,196.1 L94.7,195.0 L96.1,194.1 L97.5,193.6 L99.0,193.5 L100.5,193.7 L101.9,194.3 L103.3,195.3 L104.8,196.5 L106.2,198.0 L107.7,199.6 L109.2,201.4 L110.6,203.2 L112.0,205.0 L113.5,206.7 L115.0,208.4 L116.4,209.9 L117.8,211.3 L119.3,212.5 L120.8,213.5 L122.2,214.4 L123.7,215.1 L125.1,215.7 L126.5,216.1 L128.0,216.5 L129.4,216.8 L130.9,217.0 L132.3,217.1 L133.8,217.2 L135.2,217.3 L136.7,217.4 L138.2,217.4 L139.6,217.5 L141.1,217.5 L142.5,217.5 Z" fill="#ff7f00" stroke="#000" stroke-width="0.9"/>
</g>
<rect x="50.5" y="164.5" width="157.0" height="53.0" fill="none" stroke="#000" stroke-width="1"/>
<line x1="93.3" y1="164.5" x2="93.3" y2="166.5" stroke="#000" stroke-width="1"/>
<line x1="93.3" y1="217.5" x2="93.3" y2="215.5" stroke="#000" stroke-width="1"/>
<line x1="150.4" y1="164.5" x2="150.4" y2="166.5" stroke="#000" stroke-width="1"/>
<line x1="150.4" y1="217.5" x2="150.4" y2="215.5" stroke="#000" stroke-width="1"/>
<line x1="50.5" y1="191.0" x2="52.5" y2="191.0" stroke="#000" stroke-width="1"/>
<line x1="207.5" y1="191.0" x2="205.5" y2="191.0" stroke="#000" stroke-width="1"/>
<text x="9" y="156.7" font-size="14.5">(<tspan font-style="italic">d</tspan>)</text>
<text x="45.5" y="168.3" font-size="11.5" text-anchor="end">10</text>
<text x="46.5" y="194.3" font-size="11.5" text-anchor="end">5</text>
<text x="21.5" y="195.0" font-size="13" font-style="italic">y</text>
<rect x="230.5" y="164.5" width="157.0" height="53.0" fill="#f2f2f2"/>
<g clip-path="url(#cp11)">
<path d="M352.9,201.5L355.4,201.5L356.9,202.0L357.2,202.5L357.1,203.0L356.6,203.5L355.1,204.5L339.5,211.5L336.0,212.5L334.5,212.6L333.9,212.5L333.9,212.0L334.9,211.0L340.0,206.4L342.5,204.6L344.5,203.6L347.0,202.7L350.0,201.9L352.9,201.5Z" fill="#c4c0e9" fill-rule="evenodd"/>
<path d="M384.3,181.0L387.0,180.6L389.5,180.6L389.5,213.3L374.5,213.5L359.0,212.2L353.5,211.5L351.0,211.0L350.2,210.5L350.0,210.0L350.3,209.5L351.7,208.5L355.1,207.0L360.0,205.6L371.2,203.5L372.6,203.0L372.3,202.5L367.0,201.2L362.0,199.6L359.0,199.1L341.5,198.7L338.5,199.0L335.5,199.9L334.0,200.5L332.8,201.5L332.7,202.0L333.0,202.5L334.8,204.0L335.5,205.0L335.6,205.5L335.4,206.5L334.3,208.0L332.3,209.5L329.5,210.8L326.5,211.7L323.5,212.2L320.0,212.4L316.5,212.2L312.5,211.7L308.5,210.8L305.5,209.7L303.1,208.5L301.3,207.0L300.5,205.5L300.6,204.0L301.3,203.0L302.5,202.0L304.0,201.2L306.5,200.4L309.0,199.8L320.0,198.6L324.2,197.5L326.9,196.0L328.1,194.0L329.2,193.0L332.3,191.5L336.8,190.0L350.5,186.6L364.0,184.2L384.3,181.0Z" fill="#e9cac0" fill-rule="evenodd"/>
<path d="M386.1,183.0L389.5,182.8L389.5,201.3L387.0,201.3L374.5,199.6L363.0,197.5L356.7,196.5L354.0,195.9L351.3,195.0L350.0,194.3L349.2,193.5L349.1,193.0L349.2,192.5L350.3,191.5L352.3,190.5L356.8,189.0L368.5,186.2L386.1,183.0ZM312.5,202.0L316.0,201.6L319.5,201.6L322.0,201.7L324.0,202.1L327.0,203.4L329.5,205.0L330.5,206.0L330.7,207.0L330.1,208.0L328.5,209.0L326.5,209.7L324.0,210.1L321.5,210.3L318.5,210.2L315.5,209.9L312.5,209.3L310.2,208.5L308.2,207.5L307.1,206.5L306.7,205.5L306.9,204.5L307.9,203.5L310.0,202.6L312.5,202.0ZM374.3,205.5L389.5,205.1L389.5,211.6L374.5,211.7L366.5,210.6L364.0,210.0L362.7,209.5L362.1,209.0L362.2,208.5L362.9,208.0L364.1,207.5L368.3,206.5L374.3,205.5Z" fill="#e2a490" fill-rule="evenodd"/>
<path d="M384.9,184.5L387.0,184.1L389.5,184.1L389.5,199.9L387.0,199.9L382.5,199.3L375.5,198.2L370.0,197.2L361.7,195.0L359.6,194.0L358.8,193.0L358.8,192.5L359.1,192.0L360.3,191.0L362.4,190.0L365.0,189.1L373.5,186.9L384.9,184.5ZM314.9,203.5L319.0,203.4L322.5,204.0L324.0,204.6L325.5,205.5L326.2,206.5L326.1,207.0L325.7,207.5L324.8,208.0L323.0,208.5L321.5,208.7L318.0,208.6L314.5,208.0L312.2,207.0L311.5,206.4L311.1,205.5L311.3,205.0L312.0,204.4L313.0,203.9L314.9,203.5ZM373.7,207.0L375.0,206.8L389.5,206.6L389.5,210.3L374.5,210.5L371.5,209.7L370.3,209.0L370.3,208.5L370.8,208.0L373.7,207.0Z" fill="#da7f60" fill-rule="evenodd"/>
<path d="M384.8,185.5L387.0,185.1L389.5,185.0L389.5,199.0L387.0,199.0L385.5,198.8L379.0,197.7L373.5,196.5L369.9,195.5L367.3,194.5L366.0,193.8L365.3,193.0L365.2,192.5L365.8,191.5L367.3,190.5L369.6,189.5L375.5,187.7L384.8,185.5Z" fill="#d35930" fill-rule="evenodd"/>
<path d="M386.4,186.0L389.5,185.9L389.5,198.1L386.5,198.1L376.5,196.0L372.2,194.5L371.0,193.8L370.1,193.0L370.0,192.5L370.4,191.5L372.7,190.0L378.4,188.0L386.4,186.0Z" fill="#cc3300" fill-rule="evenodd"/>
<path d="M230.5,189.8 C232.4,189.7 239.0,189.3 241.9,189.0 C244.8,188.7 245.3,188.6 248.1,187.8 C250.8,187.0 255.8,185.5 258.4,184.2 C261.0,182.9 261.4,182.1 263.6,180.0 C265.8,177.9 269.7,173.8 271.8,171.8 C273.9,169.8 274.3,168.9 276.0,168.0 C277.7,167.1 280.2,166.5 282.0,166.6 C283.8,166.7 285.0,167.8 286.7,168.7 C288.4,169.6 289.9,170.7 292.4,172.3 C294.9,173.9 299.1,176.9 301.6,178.5 C304.1,180.1 304.7,180.8 307.3,181.6 C309.9,182.4 314.2,183.2 317.1,183.6 C320.0,184.0 321.7,183.9 324.8,184.0 C327.9,184.1 331.4,184.1 335.7,184.0 C340.0,183.9 344.7,183.8 350.5,183.6 C356.3,183.4 364.3,183.1 370.5,182.8 C376.7,182.6 384.7,182.2 387.5,182.1" fill="none" stroke="#000" stroke-width="1.35" stroke-dasharray="11,7"/>
<path d="M230.5,200.7 C232.0,200.7 236.5,200.9 239.5,200.6 C242.5,200.2 245.8,199.4 248.6,198.6 C251.4,197.8 253.9,196.8 256.4,195.5 C258.9,194.2 261.1,192.5 263.6,190.9 C266.1,189.3 268.7,187.3 271.3,185.7 C273.9,184.1 277.0,182.2 279.0,181.4 C281.0,180.6 282.0,180.9 283.5,181.1 C285.0,181.2 286.0,181.4 288.0,182.3 C290.0,183.2 293.1,185.2 295.5,186.7 C297.9,188.2 300.1,190.1 302.7,191.4 C305.3,192.7 308.6,193.9 311.4,194.5 C314.2,195.1 315.3,194.9 319.7,195.0 C324.1,195.1 326.4,195.0 337.7,195.0 C349.0,195.0 379.2,195.0 387.5,195.0" fill="none" stroke="#808080" stroke-width="2.2" stroke-dasharray="9,9"/>
<path d="M282.6,191.9 C283.9,192.5 287.9,193.9 290.3,195.5 C292.7,197.1 294.7,199.5 297.0,201.2 C299.3,202.9 301.9,204.2 304.2,205.8 C306.4,207.4 308.6,209.9 310.5,211.0 C312.4,212.1 313.5,212.4 315.5,212.1 C317.5,211.8 320.9,210.1 322.3,209.4 C323.7,208.7 324.0,208.2 324.0,207.8 C324.0,207.4 324.0,207.0 322.3,206.8 C320.6,206.6 315.4,206.8 314.0,206.8" fill="none" stroke="#808080" stroke-width="2.2" stroke-dasharray="9,9"/>
<path d="M235.5,217.5 L236.9,217.5 L238.4,217.4 L239.8,217.4 L241.3,217.4 L242.8,217.3 L244.2,217.2 L245.7,217.1 L247.1,216.9 L248.6,216.7 L250.0,216.4 L251.4,216.0 L252.9,215.5 L254.3,214.9 L255.8,214.1 L257.2,213.2 L258.7,212.2 L260.1,210.9 L261.6,209.5 L263.1,208.0 L264.5,206.3 L265.9,204.5 L267.4,202.7 L268.9,200.9 L270.3,199.2 L271.8,197.5 L273.2,196.1 L274.6,195.0 L276.1,194.1 L277.6,193.6 L279.0,193.5 L280.4,193.7 L281.9,194.3 L283.4,195.3 L284.8,196.5 L286.2,198.0 L287.7,199.6 L289.1,201.4 L290.6,203.2 L292.1,205.0 L293.5,206.7 L294.9,208.4 L296.4,209.9 L297.9,211.3 L299.3,212.5 L300.8,213.5 L302.2,214.4 L303.6,215.1 L305.1,215.7 L306.6,216.1 L308.0,216.5 L309.4,216.8 L310.9,217.0 L312.4,217.1 L313.8,217.2 L315.2,217.3 L316.7,217.4 L318.1,217.4 L319.6,217.5 L321.1,217.5 L322.5,217.5 Z" fill="#ff7f00" stroke="#000" stroke-width="0.9"/>
</g>
<rect x="230.5" y="164.5" width="157.0" height="53.0" fill="none" stroke="#000" stroke-width="1"/>
<line x1="273.3" y1="164.5" x2="273.3" y2="166.5" stroke="#000" stroke-width="1"/>
<line x1="273.3" y1="217.5" x2="273.3" y2="215.5" stroke="#000" stroke-width="1"/>
<line x1="330.4" y1="164.5" x2="330.4" y2="166.5" stroke="#000" stroke-width="1"/>
<line x1="330.4" y1="217.5" x2="330.4" y2="215.5" stroke="#000" stroke-width="1"/>
<line x1="230.5" y1="191.0" x2="232.5" y2="191.0" stroke="#000" stroke-width="1"/>
<line x1="387.5" y1="191.0" x2="385.5" y2="191.0" stroke="#000" stroke-width="1"/>
<text x="231.0" y="156.7" font-size="14.5">(<tspan font-style="italic">e</tspan>)</text>
<rect x="410.5" y="164.5" width="157.0" height="53.0" fill="#f2f2f2"/>
<g clip-path="url(#cp12)">
<path d="M547.2,183.5L550.5,183.1L554.0,183.0L557.5,183.2L560.5,183.6L563.0,184.2L565.1,185.0L566.4,186.0L566.7,186.5L566.7,187.0L565.8,188.0L563.5,189.0L558.0,190.1L554.1,190.5L550.5,190.6L546.5,190.4L543.4,190.0L541.5,189.5L541.0,189.2L540.5,188.5L540.7,188.0L541.5,187.0L542.5,186.2L546.5,183.6L547.2,183.5ZM523.3,203.0L527.5,202.6L533.0,202.5L544.5,203.0L549.0,203.5L551.7,204.0L553.2,204.5L553.9,205.0L554.1,205.5L553.8,206.0L553.1,206.5L548.8,208.5L545.0,209.8L540.5,210.9L535.0,211.6L529.5,211.9L523.0,212.0L517.0,211.8L513.0,211.3L510.5,210.6L509.8,210.0L509.6,209.5L510.1,208.5L511.1,207.5L512.6,206.5L515.6,205.0L519.0,203.8L523.3,203.0Z" fill="#c4c0e9" fill-rule="evenodd"/>
<path d="M543.6,176.0L548.5,175.7L550.0,176.5L550.5,177.0L550.7,177.5L550.6,178.0L549.4,179.0L548.5,179.3L546.5,179.7L544.8,180.5L544.0,181.4L543.1,183.0L542.2,184.0L536.7,188.0L534.3,190.0L533.6,191.0L533.8,191.5L536.5,191.9L551.5,191.9L559.0,191.3L567.5,190.3L567.8,192.0L567.9,196.0L567.9,200.0L567.5,202.4L533.5,200.2L527.2,199.5L522.0,198.4L520.5,198.3L518.5,198.8L516.1,201.5L514.3,203.0L506.0,208.2L501.0,210.7L498.0,211.7L495.5,212.3L492.0,212.9L487.0,213.3L483.0,213.2L479.5,212.8L476.5,212.1L473.8,211.0L471.8,209.5L470.8,208.0L470.5,207.0L470.6,205.5L471.2,204.0L471.8,203.0L473.6,201.0L477.9,197.5L479.2,196.0L479.3,195.5L479.0,195.0L475.0,192.8L474.1,192.0L473.9,191.5L474.1,190.5L474.9,189.5L476.4,188.5L478.4,187.5L482.0,186.1L486.0,184.9L495.5,182.8L506.0,181.3L515.5,180.7L517.4,179.5L519.0,178.8L525.5,177.1L543.6,176.0ZM561.7,208.0L566.0,207.9L569.5,208.3L569.5,212.8L565.5,213.5L561.0,213.6L556.6,213.0L554.9,212.5L554.0,212.0L553.6,211.5L553.6,211.0L554.6,210.0L555.5,209.5L558.5,208.5L561.7,208.0Z" fill="#e9cac0" fill-rule="evenodd"/>
<path d="M548.9,186.0L552.0,185.6L555.5,185.8L557.7,186.5L558.3,187.0L558.3,187.5L557.7,188.0L557.0,188.3L555.0,188.7L552.0,188.9L549.5,188.7L547.5,188.2L546.7,187.5L546.8,187.0L547.5,186.5L548.9,186.0ZM525.7,205.0L531.5,204.5L537.5,204.7L540.4,205.0L542.2,205.5L543.0,206.0L543.1,206.5L542.7,207.0L541.8,207.5L540.5,208.0L536.0,208.9L529.5,209.5L523.5,209.4L520.5,209.0L519.0,208.6L518.1,208.0L518.1,207.5L518.6,207.0L519.5,206.5L520.8,206.0L525.7,205.0Z" fill="#9890e2" fill-rule="evenodd"/>
<path d="M524.9,182.5L526.5,182.1L532.0,182.1L535.0,182.4L537.3,183.0L538.2,183.5L538.4,184.0L537.9,185.0L535.0,187.5L532.5,189.1L526.5,192.1L522.5,194.3L518.5,196.1L515.3,198.0L513.7,199.5L511.7,202.5L510.2,204.0L507.5,205.9L504.5,207.6L500.5,209.3L496.5,210.4L491.5,211.2L487.0,211.3L482.5,210.9L479.5,210.2L477.8,209.5L476.5,208.7L475.8,208.0L475.2,207.0L474.9,205.5L475.4,204.0L476.4,202.5L478.5,200.7L481.0,199.2L484.0,197.7L488.0,196.3L492.5,195.0L494.5,193.1L496.5,192.0L500.5,189.1L504.0,187.8L507.5,186.8L519.4,184.0L524.9,182.5ZM564.6,192.0L567.5,191.7L567.8,196.0L567.5,200.5L552.0,199.7L540.5,198.8L535.5,197.8L533.6,197.0L533.2,196.5L533.3,196.0L533.9,195.5L535.1,195.0L540.0,193.9L564.6,192.0Z" fill="#e2a490" fill-rule="evenodd"/>
<path d="M525.3,184.0L526.5,183.8L530.0,183.6L532.5,183.7L533.9,184.0L534.8,184.5L535.1,185.0L535.0,185.5L534.3,186.5L533.1,187.5L531.0,188.8L526.5,191.0L513.3,198.0L511.6,199.5L509.7,202.5L508.4,204.0L506.4,205.5L503.5,207.1L499.5,208.7L496.0,209.6L491.5,210.2L487.5,210.3L484.0,210.0L481.0,209.3L478.6,208.0L477.4,206.5L477.2,205.0L477.6,204.0L478.2,203.0L480.4,201.0L483.5,199.3L487.5,197.7L492.5,196.5L494.5,194.9L496.5,194.0L500.5,191.5L507.5,188.8L510.5,187.7L516.5,185.9L525.3,184.0ZM566.6,193.0L567.5,193.0L567.7,196.0L567.5,199.2L551.8,198.0L547.5,197.4L546.0,197.0L545.0,196.5L545.1,196.0L546.2,195.5L548.5,195.0L556.4,194.0L566.6,193.0Z" fill="#da7f60" fill-rule="evenodd"/>
<path d="M524.4,185.0L526.5,184.7L528.0,184.6L531.5,184.9L532.5,185.5L532.6,186.0L531.9,187.0L529.5,188.7L511.9,198.0L510.2,199.5L508.3,202.5L507.0,204.0L505.0,205.5L502.5,206.8L500.0,207.9L496.5,208.9L492.5,209.5L488.5,209.6L485.0,209.3L482.5,208.7L480.5,207.8L479.2,206.5L478.9,205.0L479.2,204.0L479.8,203.0L481.5,201.5L484.5,199.7L488.5,198.3L492.5,197.4L494.5,195.9L496.5,194.9L500.5,192.4L510.0,188.8L516.5,186.7L524.4,185.0ZM565.3,194.5L567.5,194.2L567.5,197.8L561.0,197.0L559.3,196.5L559.0,196.0L560.0,195.5L565.3,194.5Z" fill="#d35930" fill-rule="evenodd"/>
<path d="M525.9,185.5L528.0,185.5L529.9,186.0L530.2,186.5L529.6,187.5L528.2,188.5L522.5,191.8L513.3,196.5L510.7,198.0L509.1,199.5L507.1,202.5L505.8,204.0L503.8,205.5L501.5,206.7L499.0,207.6L496.0,208.4L492.0,209.0L488.5,209.0L485.5,208.7L483.0,208.0L481.3,207.0L480.5,206.0L480.3,205.0L480.8,203.5L481.6,202.5L483.0,201.4L485.0,200.3L487.5,199.3L492.5,198.0L494.5,196.6L496.5,195.6L500.5,193.1L510.5,189.3L516.5,187.3L522.0,186.1L525.9,185.5Z" fill="#cc3300" fill-rule="evenodd"/>
<path d="M410.5,189.8 C412.4,189.7 419.0,189.3 421.9,189.0 C424.8,188.7 425.4,188.6 428.1,187.8 C430.9,187.0 435.8,185.5 438.4,184.2 C441.0,182.9 441.4,182.1 443.6,180.0 C445.8,177.9 449.7,173.8 451.8,171.8 C453.9,169.8 454.3,168.9 456.0,168.0 C457.7,167.1 460.2,166.5 462.0,166.6 C463.8,166.7 465.0,167.8 466.7,168.7 C468.4,169.6 469.9,170.7 472.4,172.3 C474.9,173.9 479.1,176.9 481.6,178.5 C484.1,180.1 484.7,180.8 487.3,181.6 C489.9,182.4 494.2,183.2 497.1,183.6 C500.0,184.0 501.7,183.9 504.8,184.0 C507.9,184.1 511.4,184.1 515.7,184.0 C520.0,183.9 524.7,183.8 530.5,183.6 C536.3,183.4 544.3,183.1 550.5,182.8 C556.7,182.6 564.7,182.2 567.5,182.1" fill="none" stroke="#000" stroke-width="1.35" stroke-dasharray="11,7"/>
<path d="M410.5,200.7 C412.0,200.7 416.5,200.9 419.5,200.6 C422.5,200.2 425.8,199.4 428.6,198.6 C431.4,197.8 433.9,196.8 436.4,195.5 C438.9,194.2 441.1,192.5 443.6,190.9 C446.1,189.3 448.7,187.3 451.3,185.7 C453.9,184.1 457.0,182.2 459.0,181.4 C461.0,180.6 462.0,180.9 463.5,181.1 C465.0,181.2 466.0,181.4 468.0,182.3 C470.0,183.2 473.1,185.2 475.5,186.7 C477.9,188.2 480.1,190.1 482.7,191.4 C485.3,192.7 488.6,193.9 491.4,194.5 C494.2,195.1 495.3,194.9 499.7,195.0 C504.1,195.1 506.4,195.0 517.7,195.0 C529.0,195.0 559.2,195.0 567.5,195.0" fill="none" stroke="#808080" stroke-width="2.2" stroke-dasharray="9,9"/>
<path d="M462.6,191.9 C463.9,192.5 467.9,193.9 470.3,195.5 C472.7,197.1 474.7,199.5 477.0,201.2 C479.3,202.9 481.9,204.2 484.2,205.8 C486.4,207.4 488.6,209.9 490.5,211.0 C492.4,212.1 493.5,212.4 495.5,212.1 C497.5,211.8 500.9,210.1 502.3,209.4 C503.7,208.7 504.0,208.2 504.0,207.8 C504.0,207.4 504.0,207.0 502.3,206.8 C500.6,206.6 495.4,206.8 494.0,206.8" fill="none" stroke="#808080" stroke-width="2.2" stroke-dasharray="9,9"/>
<path d="M415.5,217.5 L416.9,217.5 L418.4,217.4 L419.9,217.4 L421.3,217.4 L422.8,217.3 L424.2,217.2 L425.6,217.1 L427.1,216.9 L428.6,216.7 L430.0,216.4 L431.4,216.0 L432.9,215.5 L434.4,214.9 L435.8,214.1 L437.2,213.2 L438.7,212.2 L440.1,210.9 L441.6,209.5 L443.1,208.0 L444.5,206.3 L445.9,204.5 L447.4,202.7 L448.9,200.9 L450.3,199.2 L451.8,197.5 L453.2,196.1 L454.6,195.0 L456.1,194.1 L457.6,193.6 L459.0,193.5 L460.4,193.7 L461.9,194.3 L463.4,195.3 L464.8,196.5 L466.2,198.0 L467.7,199.6 L469.1,201.4 L470.6,203.2 L472.1,205.0 L473.5,206.7 L474.9,208.4 L476.4,209.9 L477.9,211.3 L479.3,212.5 L480.8,213.5 L482.2,214.4 L483.6,215.1 L485.1,215.7 L486.6,216.1 L488.0,216.5 L489.4,216.8 L490.9,217.0 L492.4,217.1 L493.8,217.2 L495.2,217.3 L496.7,217.4 L498.1,217.4 L499.6,217.5 L501.1,217.5 L502.5,217.5 Z" fill="#ff7f00" stroke="#000" stroke-width="0.9"/>
</g>
<rect x="410.5" y="164.5" width="157.0" height="53.0" fill="none" stroke="#000" stroke-width="1"/>
<line x1="453.3" y1="164.5" x2="453.3" y2="166.5" stroke="#000" stroke-width="1"/>
<line x1="453.3" y1="217.5" x2="453.3" y2="215.5" stroke="#000" stroke-width="1"/>
<line x1="510.4" y1="164.5" x2="510.4" y2="166.5" stroke="#000" stroke-width="1"/>
<line x1="510.4" y1="217.5" x2="510.4" y2="215.5" stroke="#000" stroke-width="1"/>
<line x1="410.5" y1="191.0" x2="412.5" y2="191.0" stroke="#000" stroke-width="1"/>
<line x1="567.5" y1="191.0" x2="565.5" y2="191.0" stroke="#000" stroke-width="1"/>
<text x="411.0" y="156.7" font-size="14.5">(<tspan font-style="italic">f</tspan>)</text>
<rect x="50.5" y="242.5" width="157.0" height="53.0" fill="#f2f2f2"/>
<g clip-path="url(#cp20)">
<path d="M204.2,263.0L209.5,262.7L209.5,281.6L196.0,281.6L190.5,281.3L189.0,281.5L184.5,282.3L175.5,284.5L165.0,287.7L156.5,289.3L130.5,288.4L127.5,287.5L126.5,286.9L125.7,286.0L125.7,285.0L126.0,284.5L127.3,283.5L129.0,282.8L130.5,282.3L142.7,281.0L147.0,280.0L148.5,279.1L149.5,277.5L150.1,277.0L152.1,276.0L164.0,271.8L178.5,267.1L196.0,263.7L204.2,263.0ZM198.1,289.5L204.0,289.0L209.5,289.3L209.5,292.7L206.0,293.0L202.5,293.0L199.5,292.7L197.0,292.2L195.5,291.5L195.0,291.0L195.2,290.5L196.1,290.0L198.1,289.5Z" fill="#c4c0e9" fill-rule="evenodd"/>
<path d="M188.7,282.5L190.5,282.2L192.5,282.1L209.5,282.3L209.5,288.2L202.0,288.2L192.5,288.6L187.0,288.3L182.0,287.3L181.0,287.0L180.0,286.4L179.8,286.0L180.0,285.5L180.7,285.0L184.6,283.5L188.7,282.5Z" fill="#e9cac0" fill-rule="evenodd"/>
<path d="M207.3,264.5L209.5,264.5L209.5,281.0L196.0,280.9L190.5,280.4L189.0,280.5L184.0,281.1L177.5,282.6L163.5,284.5L159.5,284.8L157.9,284.5L158.2,284.0L162.5,281.1L163.6,280.0L164.0,279.0L163.7,277.0L163.8,276.5L164.4,275.5L166.6,274.0L171.5,271.8L178.5,269.2L194.5,265.7L196.0,265.4L207.3,264.5Z" fill="#9890e2" fill-rule="evenodd"/>
<path d="M190.5,283.0L192.5,282.8L209.5,282.9L209.5,287.4L192.5,287.6L188.5,286.9L185.9,286.0L185.5,285.5L185.6,285.0L187.2,284.0L190.5,283.0Z" fill="#e2a490" fill-rule="evenodd"/>
<path d="M206.7,265.5L209.5,265.4L209.5,280.4L196.0,280.3L190.5,279.6L187.0,279.6L181.6,280.0L177.5,281.0L175.0,280.9L173.0,280.5L172.3,280.0L170.3,276.5L170.3,275.5L170.6,275.0L171.6,274.0L174.1,272.5L178.5,270.5L185.5,268.7L196.0,266.3L206.7,265.5Z" fill="#6c60da" fill-rule="evenodd"/>
<path d="M192.5,283.5L209.5,283.6L209.5,286.6L192.5,286.7L190.1,286.0L189.3,285.5L189.1,285.0L189.5,284.5L190.5,284.0L192.5,283.5Z" fill="#da7f60" fill-rule="evenodd"/>
<path d="M202.5,266.5L209.5,266.1L209.5,279.8L196.0,279.8L190.5,278.9L179.0,278.2L177.5,278.4L176.0,277.4L174.8,276.0L174.7,275.0L174.9,274.5L175.8,273.5L178.1,272.0L180.7,271.0L186.5,269.3L196.0,266.9L202.5,266.5Z" fill="#4030d3" fill-rule="evenodd"/>
<path d="M192.2,285.0L192.5,284.6L193.0,284.5L209.5,284.7L209.5,285.5L193.0,285.6L192.4,285.5L192.2,285.0Z" fill="#d35930" fill-rule="evenodd"/>
<path d="M203.5,267.0L209.5,266.7L209.5,279.2L196.0,279.3L182.2,277.0L179.3,276.0L178.2,275.0L178.1,274.5L178.3,274.0L179.3,273.0L182.2,271.5L185.5,270.3L196.0,267.5L203.5,267.0Z" fill="#1400cc" fill-rule="evenodd"/>
<path d="M50.5,267.8 C52.4,267.7 59.0,267.3 61.9,267.0 C64.8,266.7 65.3,266.6 68.1,265.8 C70.8,265.0 75.8,263.5 78.4,262.2 C81.0,260.9 81.4,260.1 83.6,258.0 C85.8,255.9 89.7,251.8 91.8,249.8 C93.9,247.8 94.3,246.9 96.0,246.0 C97.7,245.1 100.2,244.5 102.0,244.6 C103.8,244.7 105.0,245.8 106.7,246.7 C108.4,247.6 109.9,248.7 112.4,250.3 C114.9,251.9 119.1,254.9 121.6,256.5 C124.1,258.1 124.7,258.8 127.3,259.6 C129.9,260.5 134.2,261.2 137.1,261.6 C140.0,262.0 141.7,261.9 144.8,262.0 C147.9,262.1 151.4,262.1 155.7,262.0 C160.0,261.9 164.7,261.8 170.5,261.6 C176.3,261.4 184.3,261.1 190.5,260.8 C196.7,260.6 204.7,260.2 207.5,260.1" fill="none" stroke="#000" stroke-width="1.35" stroke-dasharray="11,7"/>
<path d="M50.5,278.7 C52.0,278.7 56.5,279.0 59.5,278.6 C62.5,278.2 65.8,277.5 68.6,276.6 C71.4,275.8 73.9,274.8 76.4,273.5 C78.9,272.2 81.1,270.5 83.6,268.9 C86.1,267.3 88.7,265.3 91.3,263.7 C93.9,262.1 97.0,260.2 99.0,259.4 C101.0,258.6 102.0,259.0 103.5,259.1 C105.0,259.2 106.0,259.4 108.0,260.3 C110.0,261.2 113.0,263.2 115.5,264.7 C118.0,266.2 120.0,268.1 122.7,269.4 C125.4,270.7 128.6,271.9 131.4,272.5 C134.2,273.1 135.3,272.9 139.7,273.0 C144.1,273.1 146.4,273.0 157.7,273.0 C169.0,273.0 199.2,273.0 207.5,273.0" fill="none" stroke="#808080" stroke-width="2.2" stroke-dasharray="9,9"/>
<path d="M102.6,269.9 C103.9,270.5 107.9,271.9 110.3,273.5 C112.7,275.1 114.7,277.5 117.0,279.2 C119.3,280.9 122.0,282.2 124.2,283.8 C126.5,285.4 128.6,287.9 130.5,289.0 C132.4,290.1 133.5,290.4 135.5,290.1 C137.5,289.8 140.9,288.1 142.3,287.4 C143.7,286.7 144.0,286.2 144.0,285.8 C144.0,285.4 144.0,285.0 142.3,284.8 C140.6,284.6 135.4,284.8 134.0,284.8" fill="none" stroke="#808080" stroke-width="2.2" stroke-dasharray="9,9"/>
<path d="M55.5,295.5 L57.0,295.5 L58.4,295.4 L59.9,295.4 L61.3,295.4 L62.8,295.3 L64.2,295.2 L65.7,295.1 L67.1,294.9 L68.5,294.7 L70.0,294.4 L71.5,294.0 L72.9,293.5 L74.3,292.9 L75.8,292.1 L77.2,291.2 L78.7,290.2 L80.2,288.9 L81.6,287.5 L83.0,286.0 L84.5,284.3 L86.0,282.5 L87.4,280.7 L88.8,278.9 L90.3,277.2 L91.8,275.5 L93.2,274.1 L94.7,273.0 L96.1,272.1 L97.5,271.6 L99.0,271.5 L100.5,271.7 L101.9,272.3 L103.3,273.3 L104.8,274.5 L106.2,276.0 L107.7,277.6 L109.2,279.4 L110.6,281.2 L112.0,283.0 L113.5,284.7 L115.0,286.4 L116.4,287.9 L117.8,289.3 L119.3,290.5 L120.8,291.5 L122.2,292.4 L123.7,293.1 L125.1,293.7 L126.5,294.1 L128.0,294.5 L129.4,294.8 L130.9,295.0 L132.3,295.1 L133.8,295.2 L135.2,295.3 L136.7,295.4 L138.2,295.4 L139.6,295.5 L141.1,295.5 L142.5,295.5 Z" fill="#ff7f00" stroke="#000" stroke-width="0.9"/>
</g>
<rect x="50.5" y="242.5" width="157.0" height="53.0" fill="none" stroke="#000" stroke-width="1"/>
<line x1="93.3" y1="242.5" x2="93.3" y2="244.5" stroke="#000" stroke-width="1"/>
<line x1="93.3" y1="295.5" x2="93.3" y2="293.5" stroke="#000" stroke-width="1"/>
<line x1="150.4" y1="242.5" x2="150.4" y2="244.5" stroke="#000" stroke-width="1"/>
<line x1="150.4" y1="295.5" x2="150.4" y2="293.5" stroke="#000" stroke-width="1"/>
<line x1="50.5" y1="269.0" x2="52.5" y2="269.0" stroke="#000" stroke-width="1"/>
<line x1="207.5" y1="269.0" x2="205.5" y2="269.0" stroke="#000" stroke-width="1"/>
<text x="9" y="234.7" font-size="14.5">(<tspan font-style="italic">g</tspan>)</text>
<text x="45.5" y="246.3" font-size="11.5" text-anchor="end">10</text>
<text x="46.5" y="272.3" font-size="11.5" text-anchor="end">5</text>
<text x="21.5" y="273.0" font-size="13" font-style="italic">y</text>
<rect x="230.5" y="242.5" width="157.0" height="53.0" fill="#f2f2f2"/>
<g clip-path="url(#cp21)">
<path d="M382.7,264.5L389.5,264.2L389.5,283.0L383.0,283.0L370.5,282.1L365.0,282.7L353.4,285.0L345.5,287.8L336.5,289.6L310.5,288.8L308.0,288.2L306.6,287.5L305.9,287.0L305.2,286.0L305.1,285.5L305.4,284.5L306.3,283.5L308.0,282.5L310.5,281.7L320.1,280.5L324.6,279.5L331.5,276.5L340.0,273.7L348.0,271.3L360.5,267.9L382.7,264.5ZM385.6,289.5L389.5,289.5L389.5,292.7L387.0,292.8L385.0,292.6L383.5,292.2L382.4,291.5L382.2,291.0L382.5,290.5L383.5,289.9L385.6,289.5Z" fill="#c4c0e9" fill-rule="evenodd"/>
<path d="M366.1,283.5L370.5,283.1L383.0,283.7L389.5,283.7L389.5,287.7L370.5,287.9L365.0,287.7L362.5,287.4L359.5,286.5L359.0,286.0L359.2,285.5L361.3,284.5L364.5,283.7L366.1,283.5Z" fill="#e9cac0" fill-rule="evenodd"/>
<path d="M387.1,266.0L389.5,266.0L389.5,282.4L383.0,282.3L370.5,281.1L364.5,281.7L357.5,283.0L340.5,285.2L337.0,285.4L333.7,285.0L333.6,284.5L336.5,283.8L341.4,280.0L344.4,277.0L345.7,276.0L349.0,274.3L354.0,272.3L360.5,270.2L365.5,269.2L383.0,266.2L387.1,266.0Z" fill="#9890e2" fill-rule="evenodd"/>
<path d="M368.6,284.5L370.5,284.3L383.0,285.0L389.5,285.1L389.5,285.7L370.5,286.1L365.4,285.5L365.9,285.0L368.6,284.5Z" fill="#e2a490" fill-rule="evenodd"/>
<path d="M386.3,267.0L389.5,266.9L389.5,281.8L383.0,281.8L370.5,280.1L364.5,280.5L357.5,281.9L356.3,282.0L350.5,282.0L348.7,281.5L348.3,281.0L348.4,280.5L348.9,279.5L351.3,276.5L354.1,274.5L357.5,272.9L361.7,271.5L371.5,269.3L383.0,267.1L386.3,267.0Z" fill="#6c60da" fill-rule="evenodd"/>
<path d="M382.1,268.0L383.0,267.8L389.5,267.6L389.5,281.2L383.0,281.2L370.5,279.2L367.5,279.1L361.0,279.3L357.5,280.4L355.9,280.0L355.2,279.5L354.9,279.0L354.8,278.5L355.1,277.5L356.1,276.0L357.5,274.8L360.5,273.4L364.5,272.0L369.0,270.8L382.1,268.0Z" fill="#4030d3" fill-rule="evenodd"/>
<path d="M382.5,268.5L389.5,268.2L389.5,280.7L383.0,280.7L379.5,280.2L370.5,278.4L364.8,277.5L363.0,276.9L362.3,276.5L361.9,276.0L362.0,275.5L362.7,274.5L364.3,273.5L366.6,272.5L373.0,270.6L382.5,268.5Z" fill="#1400cc" fill-rule="evenodd"/>
<path d="M230.5,267.8 C232.4,267.7 239.0,267.3 241.9,267.0 C244.8,266.7 245.3,266.6 248.1,265.8 C250.8,265.0 255.8,263.5 258.4,262.2 C261.0,260.9 261.4,260.1 263.6,258.0 C265.8,255.9 269.7,251.8 271.8,249.8 C273.9,247.8 274.3,246.9 276.0,246.0 C277.7,245.1 280.2,244.5 282.0,244.6 C283.8,244.7 285.0,245.8 286.7,246.7 C288.4,247.6 289.9,248.7 292.4,250.3 C294.9,251.9 299.1,254.9 301.6,256.5 C304.1,258.1 304.7,258.8 307.3,259.6 C309.9,260.5 314.2,261.2 317.1,261.6 C320.0,262.0 321.7,261.9 324.8,262.0 C327.9,262.1 331.4,262.1 335.7,262.0 C340.0,261.9 344.7,261.8 350.5,261.6 C356.3,261.4 364.3,261.1 370.5,260.8 C376.7,260.6 384.7,260.2 387.5,260.1" fill="none" stroke="#000" stroke-width="1.35" stroke-dasharray="11,7"/>
<path d="M230.5,278.7 C232.0,278.7 236.5,279.0 239.5,278.6 C242.5,278.2 245.8,277.5 248.6,276.6 C251.4,275.8 253.9,274.8 256.4,273.5 C258.9,272.2 261.1,270.5 263.6,268.9 C266.1,267.3 268.7,265.3 271.3,263.7 C273.9,262.1 277.0,260.2 279.0,259.4 C281.0,258.6 282.0,259.0 283.5,259.1 C285.0,259.2 286.0,259.4 288.0,260.3 C290.0,261.2 293.1,263.2 295.5,264.7 C297.9,266.2 300.1,268.1 302.7,269.4 C305.3,270.7 308.6,271.9 311.4,272.5 C314.2,273.1 315.3,272.9 319.7,273.0 C324.1,273.1 326.4,273.0 337.7,273.0 C349.0,273.0 379.2,273.0 387.5,273.0" fill="none" stroke="#808080" stroke-width="2.2" stroke-dasharray="9,9"/>
<path d="M282.6,269.9 C283.9,270.5 287.9,271.9 290.3,273.5 C292.7,275.1 294.7,277.5 297.0,279.2 C299.3,280.9 301.9,282.2 304.2,283.8 C306.4,285.4 308.6,287.9 310.5,289.0 C312.4,290.1 313.5,290.4 315.5,290.1 C317.5,289.8 320.9,288.1 322.3,287.4 C323.7,286.7 324.0,286.2 324.0,285.8 C324.0,285.4 324.0,285.0 322.3,284.8 C320.6,284.6 315.4,284.8 314.0,284.8" fill="none" stroke="#808080" stroke-width="2.2" stroke-dasharray="9,9"/>
<path d="M235.5,295.5 L236.9,295.5 L238.4,295.4 L239.8,295.4 L241.3,295.4 L242.8,295.3 L244.2,295.2 L245.7,295.1 L247.1,294.9 L248.6,294.7 L250.0,294.4 L251.4,294.0 L252.9,293.5 L254.3,292.9 L255.8,292.1 L257.2,291.2 L258.7,290.2 L260.1,288.9 L261.6,287.5 L263.1,286.0 L264.5,284.3 L265.9,282.5 L267.4,280.7 L268.9,278.9 L270.3,277.2 L271.8,275.5 L273.2,274.1 L274.6,273.0 L276.1,272.1 L277.6,271.6 L279.0,271.5 L280.4,271.7 L281.9,272.3 L283.4,273.3 L284.8,274.5 L286.2,276.0 L287.7,277.6 L289.1,279.4 L290.6,281.2 L292.1,283.0 L293.5,284.7 L294.9,286.4 L296.4,287.9 L297.9,289.3 L299.3,290.5 L300.8,291.5 L302.2,292.4 L303.6,293.1 L305.1,293.7 L306.6,294.1 L308.0,294.5 L309.4,294.8 L310.9,295.0 L312.4,295.1 L313.8,295.2 L315.2,295.3 L316.7,295.4 L318.1,295.4 L319.6,295.5 L321.1,295.5 L322.5,295.5 Z" fill="#ff7f00" stroke="#000" stroke-width="0.9"/>
</g>
<rect x="230.5" y="242.5" width="157.0" height="53.0" fill="none" stroke="#000" stroke-width="1"/>
<line x1="273.3" y1="242.5" x2="273.3" y2="244.5" stroke="#000" stroke-width="1"/>
<line x1="273.3" y1="295.5" x2="273.3" y2="293.5" stroke="#000" stroke-width="1"/>
<line x1="330.4" y1="242.5" x2="330.4" y2="244.5" stroke="#000" stroke-width="1"/>
<line x1="330.4" y1="295.5" x2="330.4" y2="293.5" stroke="#000" stroke-width="1"/>
<line x1="230.5" y1="269.0" x2="232.5" y2="269.0" stroke="#000" stroke-width="1"/>
<line x1="387.5" y1="269.0" x2="385.5" y2="269.0" stroke="#000" stroke-width="1"/>
<text x="231.0" y="234.7" font-size="14.5">(<tspan font-style="italic">h</tspan>)</text>
<rect x="410.5" y="242.5" width="157.0" height="53.0" fill="#f2f2f2"/>
<g clip-path="url(#cp22)">
<path d="M512.0,254.0L520.0,253.9L526.0,254.2L534.5,255.5L536.0,255.9L537.0,256.5L537.2,257.0L537.2,257.5L536.7,258.5L530.9,265.0L529.3,267.5L529.1,268.5L529.3,269.0L529.9,269.5L531.6,270.0L536.0,270.5L540.5,270.6L546.5,270.5L551.0,270.2L558.5,269.1L567.5,266.7L567.9,272.5L568.0,277.0L567.8,284.5L567.9,289.0L567.5,291.7L525.0,291.7L519.0,291.4L516.0,290.8L515.3,290.5L515.1,290.0L515.6,289.5L516.4,289.0L520.4,287.5L529.0,285.0L529.8,284.5L529.0,284.0L525.0,282.3L523.3,281.0L522.4,280.0L521.6,278.5L520.5,275.1L518.0,275.1L515.0,275.5L506.0,278.0L498.5,280.5L492.2,283.0L488.6,285.0L486.5,286.8L486.0,287.1L485.0,287.1L483.4,286.5L482.6,285.5L482.6,285.0L482.9,284.0L484.6,282.0L489.1,277.5L489.7,276.5L489.7,276.0L489.0,275.3L487.5,274.7L480.5,273.1L477.7,271.5L474.8,269.5L473.0,267.6L472.3,266.0L472.4,264.5L473.5,262.7L474.8,261.5L476.3,260.5L480.5,258.3L495.5,255.6L512.0,254.0ZM488.4,288.5L490.0,288.5L493.0,289.0L494.6,289.5L494.9,290.0L492.5,290.2L490.2,290.0L488.7,289.5L488.1,289.0L488.4,288.5Z" fill="#c4c0e9" fill-rule="evenodd"/>
<path d="M551.1,257.5L555.0,257.2L559.0,257.2L562.5,257.7L564.9,258.5L566.2,259.5L566.5,260.0L566.5,261.0L565.6,262.5L563.6,264.0L560.5,265.5L556.5,266.9L552.0,267.9L547.5,268.6L543.0,268.7L539.5,268.4L537.0,267.7L536.0,267.1L535.4,266.5L535.1,265.5L535.7,264.0L537.2,262.5L539.5,261.0L542.0,259.8L545.0,258.8L551.1,257.5ZM567.9,258.0L568.0,257.8L569.5,258.6L569.5,264.1L568.0,265.3L567.6,260.5L567.9,258.0ZM460.8,258.5L463.0,258.3L463.6,258.5L464.0,259.0L464.1,259.5L463.9,260.5L463.4,261.5L461.3,264.0L458.0,266.6L454.5,268.6L451.5,269.7L450.5,269.7L449.4,269.5L449.0,269.0L448.9,268.5L449.1,267.5L450.0,266.0L451.7,264.0L454.0,262.1L456.0,260.7L458.5,259.4L460.8,258.5ZM481.5,276.5L483.0,276.2L484.0,276.5L483.6,277.0L483.0,277.1L482.0,277.0L481.5,276.5ZM509.8,277.5L512.5,277.1L515.0,277.1L517.5,277.3L520.5,277.9L522.0,280.6L524.9,283.5L525.1,284.0L524.9,284.5L523.2,285.5L518.5,287.2L513.0,288.8L508.5,289.7L505.5,290.0L502.5,289.8L500.0,289.3L493.2,287.0L492.1,286.5L491.5,286.0L491.4,285.5L491.5,285.0L492.4,284.0L495.9,282.0L502.5,279.5L509.8,277.5Z" fill="#e9cac0" fill-rule="evenodd"/>
<path d="M511.9,259.0L517.0,258.9L522.5,259.5L528.0,259.6L530.0,260.0L530.6,260.5L530.8,261.0L530.5,262.0L529.2,264.0L527.4,266.0L525.0,268.3L522.0,270.6L518.0,272.8L514.5,274.4L508.5,276.7L494.0,281.6L490.5,282.5L489.0,282.4L488.6,282.0L488.6,281.5L489.2,280.5L490.9,278.5L495.7,274.0L496.4,273.0L496.6,272.5L496.4,272.0L496.0,271.7L492.5,270.4L490.3,269.0L489.7,268.0L489.5,267.0L489.9,266.0L490.3,265.5L491.6,264.5L493.5,263.5L498.0,261.8L505.5,259.9L511.9,259.0ZM565.3,271.0L567.5,271.0L567.7,272.0L567.9,274.5L567.9,280.0L567.8,282.0L567.5,283.6L536.5,283.3L528.5,282.8L525.5,281.7L523.8,280.5L522.5,278.5L521.6,275.5L521.7,274.0L522.5,272.7L524.0,272.0L526.5,271.6L528.5,271.4L544.5,271.6L565.3,271.0ZM562.4,286.0L567.5,285.9L567.6,288.0L567.5,289.8L529.5,289.7L524.8,289.5L523.0,289.0L523.1,288.5L524.1,288.0L525.8,287.5L531.0,286.8L536.5,286.5L562.4,286.0Z" fill="#9890e2" fill-rule="evenodd"/>
<path d="M549.6,260.5L554.0,260.3L556.0,260.5L557.5,261.1L558.1,261.5L558.4,262.0L558.3,262.5L557.6,263.5L556.0,264.5L554.0,265.3L551.5,265.9L547.0,266.5L545.0,266.5L543.0,266.1L541.5,265.5L541.1,265.0L541.0,264.5L541.2,264.0L542.0,263.1L542.9,262.5L546.0,261.3L549.6,260.5ZM507.7,278.5L511.0,278.1L514.0,278.1L517.5,278.6L520.0,279.3L520.5,279.5L522.4,282.5L522.9,283.5L522.8,284.0L521.7,285.0L518.0,286.6L513.5,287.9L509.0,288.7L506.0,288.9L503.0,288.7L500.0,288.2L497.0,287.3L494.5,286.2L493.7,285.5L493.5,285.0L493.7,284.5L494.6,283.5L497.1,282.0L500.5,280.6L504.0,279.4L507.7,278.5Z" fill="#e2a490" fill-rule="evenodd"/>
<path d="M521.1,262.0L524.0,261.7L526.0,261.7L527.0,262.0L527.4,262.5L527.5,263.0L526.8,264.5L525.1,266.5L522.5,268.7L519.5,270.8L516.0,272.8L512.0,274.8L504.5,277.7L495.0,280.6L492.5,280.9L491.7,280.5L491.9,279.5L493.1,278.0L500.1,272.0L502.1,270.0L502.6,269.0L502.5,268.5L501.4,267.5L501.0,267.0L500.9,266.5L501.2,266.0L502.4,265.0L504.6,264.0L508.0,263.2L510.5,262.9L515.5,262.8L521.1,262.0ZM557.0,272.0L567.5,271.9L567.8,273.5L567.9,277.0L567.8,281.0L567.5,282.8L537.0,282.6L528.5,282.2L526.0,281.3L524.2,280.0L523.3,278.5L522.6,276.0L522.9,274.5L523.8,273.5L525.5,272.8L528.5,272.2L541.0,272.2L557.0,272.0Z" fill="#6c60da" fill-rule="evenodd"/>
<path d="M508.1,279.0L511.5,278.8L514.5,279.0L517.5,279.6L519.6,280.5L520.5,281.1L521.1,282.5L521.2,283.5L520.5,284.5L518.8,285.5L515.5,286.7L512.0,287.6L508.5,288.1L505.5,288.2L502.0,287.9L499.0,287.2L496.2,286.0L495.3,285.0L495.3,284.5L495.9,283.5L498.3,282.0L503.5,280.0L508.1,279.0Z" fill="#da7f60" fill-rule="evenodd"/>
<path d="M519.9,263.5L522.5,263.1L524.0,263.2L524.7,263.5L525.0,264.0L525.0,264.5L524.1,266.0L522.7,267.5L520.5,269.2L517.5,271.2L511.0,274.7L504.0,277.5L497.0,279.6L495.0,279.8L493.9,279.5L493.8,279.0L494.4,278.0L496.4,276.0L500.5,272.8L506.5,268.7L509.0,267.3L512.5,265.7L516.5,264.3L519.9,263.5ZM560.8,272.5L567.5,272.4L567.8,274.0L567.8,277.0L567.8,280.5L567.5,282.3L537.0,282.1L528.5,281.8L526.5,281.0L525.1,280.0L524.2,278.5L523.6,276.5L523.8,275.0L524.8,274.0L526.5,273.2L528.5,272.8L560.8,272.5Z" fill="#4030d3" fill-rule="evenodd"/>
<path d="M508.6,279.5L511.5,279.4L514.5,279.8L517.0,280.4L518.5,281.2L519.4,282.0L519.7,282.5L519.7,283.5L518.9,284.5L517.2,285.5L514.5,286.5L511.5,287.2L508.5,287.6L505.5,287.7L502.5,287.4L500.0,286.9L497.9,286.0L496.8,285.0L496.7,284.5L497.2,283.5L499.4,282.0L504.0,280.3L508.6,279.5Z" fill="#d35930" fill-rule="evenodd"/>
<path d="M519.8,264.5L521.5,264.4L522.5,264.6L522.9,265.0L522.7,266.0L521.5,267.5L519.7,269.0L515.0,272.1L509.0,275.2L503.0,277.5L499.6,278.5L497.5,278.9L496.5,278.9L495.7,278.5L495.8,278.0L496.4,277.0L498.6,275.0L502.5,272.2L506.5,269.7L510.0,267.8L513.5,266.3L516.5,265.3L519.8,264.5ZM556.3,273.0L567.5,272.9L567.8,277.0L567.8,280.0L567.5,281.9L537.0,281.6L528.5,281.3L526.7,280.5L525.6,279.5L525.0,278.5L524.6,276.5L524.7,275.5L525.4,274.5L526.5,273.9L528.5,273.3L556.3,273.0Z" fill="#1400cc" fill-rule="evenodd"/>
<path d="M509.5,280.0L512.0,280.1L514.5,280.5L516.5,281.2L517.7,282.0L518.2,283.0L517.9,284.0L516.7,285.0L515.7,285.5L513.5,286.2L511.0,286.8L508.0,287.2L505.5,287.2L503.0,287.0L500.9,286.5L499.5,286.0L498.3,285.0L498.1,284.5L498.5,283.5L500.7,282.0L503.0,281.1L505.0,280.5L509.5,280.0Z" fill="#cc3300" fill-rule="evenodd"/>
<path d="M410.5,267.8 C412.4,267.7 419.0,267.3 421.9,267.0 C424.8,266.7 425.4,266.6 428.1,265.8 C430.9,265.0 435.8,263.5 438.4,262.2 C441.0,260.9 441.4,260.1 443.6,258.0 C445.8,255.9 449.7,251.8 451.8,249.8 C453.9,247.8 454.3,246.9 456.0,246.0 C457.7,245.1 460.2,244.5 462.0,244.6 C463.8,244.7 465.0,245.8 466.7,246.7 C468.4,247.6 469.9,248.7 472.4,250.3 C474.9,251.9 479.1,254.9 481.6,256.5 C484.1,258.1 484.7,258.8 487.3,259.6 C489.9,260.5 494.2,261.2 497.1,261.6 C500.0,262.0 501.7,261.9 504.8,262.0 C507.9,262.1 511.4,262.1 515.7,262.0 C520.0,261.9 524.7,261.8 530.5,261.6 C536.3,261.4 544.3,261.1 550.5,260.8 C556.7,260.6 564.7,260.2 567.5,260.1" fill="none" stroke="#000" stroke-width="1.35" stroke-dasharray="11,7"/>
<path d="M410.5,278.7 C412.0,278.7 416.5,279.0 419.5,278.6 C422.5,278.2 425.8,277.5 428.6,276.6 C431.4,275.8 433.9,274.8 436.4,273.5 C438.9,272.2 441.1,270.5 443.6,268.9 C446.1,267.3 448.7,265.3 451.3,263.7 C453.9,262.1 457.0,260.2 459.0,259.4 C461.0,258.6 462.0,259.0 463.5,259.1 C465.0,259.2 466.0,259.4 468.0,260.3 C470.0,261.2 473.1,263.2 475.5,264.7 C477.9,266.2 480.1,268.1 482.7,269.4 C485.3,270.7 488.6,271.9 491.4,272.5 C494.2,273.1 495.3,272.9 499.7,273.0 C504.1,273.1 506.4,273.0 517.7,273.0 C529.0,273.0 559.2,273.0 567.5,273.0" fill="none" stroke="#808080" stroke-width="2.2" stroke-dasharray="9,9"/>
<path d="M462.6,269.9 C463.9,270.5 467.9,271.9 470.3,273.5 C472.7,275.1 474.7,277.5 477.0,279.2 C479.3,280.9 481.9,282.2 484.2,283.8 C486.4,285.4 488.6,287.9 490.5,289.0 C492.4,290.1 493.5,290.4 495.5,290.1 C497.5,289.8 500.9,288.1 502.3,287.4 C503.7,286.7 504.0,286.2 504.0,285.8 C504.0,285.4 504.0,285.0 502.3,284.8 C500.6,284.6 495.4,284.8 494.0,284.8" fill="none" stroke="#808080" stroke-width="2.2" stroke-dasharray="9,9"/>
<path d="M415.5,295.5 L416.9,295.5 L418.4,295.4 L419.9,295.4 L421.3,295.4 L422.8,295.3 L424.2,295.2 L425.6,295.1 L427.1,294.9 L428.6,294.7 L430.0,294.4 L431.4,294.0 L432.9,293.5 L434.4,292.9 L435.8,292.1 L437.2,291.2 L438.7,290.2 L440.1,288.9 L441.6,287.5 L443.1,286.0 L444.5,284.3 L445.9,282.5 L447.4,280.7 L448.9,278.9 L450.3,277.2 L451.8,275.5 L453.2,274.1 L454.6,273.0 L456.1,272.1 L457.6,271.6 L459.0,271.5 L460.4,271.7 L461.9,272.3 L463.4,273.3 L464.8,274.5 L466.2,276.0 L467.7,277.6 L469.1,279.4 L470.6,281.2 L472.1,283.0 L473.5,284.7 L474.9,286.4 L476.4,287.9 L477.9,289.3 L479.3,290.5 L480.8,291.5 L482.2,292.4 L483.6,293.1 L485.1,293.7 L486.6,294.1 L488.0,294.5 L489.4,294.8 L490.9,295.0 L492.4,295.1 L493.8,295.2 L495.2,295.3 L496.7,295.4 L498.1,295.4 L499.6,295.5 L501.1,295.5 L502.5,295.5 Z" fill="#ff7f00" stroke="#000" stroke-width="0.9"/>
</g>
<rect x="410.5" y="242.5" width="157.0" height="53.0" fill="none" stroke="#000" stroke-width="1"/>
<line x1="453.3" y1="242.5" x2="453.3" y2="244.5" stroke="#000" stroke-width="1"/>
<line x1="453.3" y1="295.5" x2="453.3" y2="293.5" stroke="#000" stroke-width="1"/>
<line x1="510.4" y1="242.5" x2="510.4" y2="244.5" stroke="#000" stroke-width="1"/>
<line x1="510.4" y1="295.5" x2="510.4" y2="293.5" stroke="#000" stroke-width="1"/>
<line x1="410.5" y1="269.0" x2="412.5" y2="269.0" stroke="#000" stroke-width="1"/>
<line x1="567.5" y1="269.0" x2="565.5" y2="269.0" stroke="#000" stroke-width="1"/>
<text x="411.0" y="234.7" font-size="14.5">(<tspan font-style="italic">i</tspan>)</text>
<rect x="50.5" y="320.5" width="157.0" height="53.0" fill="#f2f2f2"/>
<g clip-path="url(#cp30)">
<path d="M204.2,337.0L207.5,336.6L209.5,336.6L209.5,352.4L200.0,352.7L194.0,352.6L174.5,353.5L160.5,353.6L152.0,353.2L145.0,352.6L141.9,352.0L140.8,351.5L140.5,351.0L140.9,350.5L141.7,350.0L145.9,348.5L159.5,345.2L170.5,342.9L187.5,339.7L200.0,337.4L204.2,337.0ZM159.2,359.0L172.5,358.9L194.0,359.7L209.5,359.9L209.5,371.9L194.0,371.5L181.5,370.3L150.5,366.8L142.5,365.6L137.3,364.5L134.8,363.5L134.5,363.0L134.9,362.5L135.5,362.2L137.7,361.5L142.0,360.7L147.5,359.9L159.2,359.0Z" fill="#c4c0e9" fill-rule="evenodd"/>
<path d="M192.7,353.0L209.5,352.7L209.5,359.7L194.0,359.6L185.2,359.0L173.1,358.0L169.3,357.5L167.2,357.0L166.7,356.5L168.0,355.9L172.6,355.0L180.5,354.1L192.7,353.0Z" fill="#e9cac0" fill-rule="evenodd"/>
<path d="M205.1,338.5L209.5,338.2L209.5,352.1L200.0,352.4L194.0,352.3L185.0,352.5L175.5,352.3L167.5,351.7L163.0,351.1L160.6,350.5L159.5,350.0L159.2,349.5L159.4,349.0L160.0,348.5L162.2,347.5L170.5,345.0L181.0,342.7L199.0,339.2L205.1,338.5ZM177.2,359.5L185.0,359.6L194.0,359.9L209.5,360.0L209.5,370.5L194.0,370.1L190.5,369.7L166.5,366.8L159.2,365.5L155.3,364.5L154.0,364.0L153.3,363.5L153.2,363.0L153.7,362.5L154.5,362.1L156.5,361.5L160.5,360.7L165.5,360.1L171.0,359.7L177.2,359.5Z" fill="#9890e2" fill-rule="evenodd"/>
<path d="M205.5,353.0L209.5,352.9L209.5,359.6L194.0,359.5L188.3,359.0L178.5,357.8L176.7,357.5L175.3,357.0L175.0,356.5L175.7,356.0L179.0,355.1L188.5,353.7L194.0,353.1L205.5,353.0Z" fill="#e2a490" fill-rule="evenodd"/>
<path d="M203.7,339.5L207.5,339.1L209.5,339.1L209.5,351.9L200.0,352.2L182.0,351.7L176.5,351.2L172.0,350.5L169.5,349.9L168.5,349.5L167.9,349.0L167.9,348.5L168.3,348.0L170.1,347.0L176.5,345.0L186.0,342.7L198.0,340.2L200.0,339.8L203.7,339.5ZM177.7,360.0L186.0,359.8L209.5,360.2L209.5,369.7L193.5,369.3L174.5,366.8L169.0,365.8L165.0,364.9L162.6,364.0L162.0,363.5L161.9,363.0L162.4,362.5L163.5,362.0L166.0,361.3L169.5,360.7L177.7,360.0Z" fill="#6c60da" fill-rule="evenodd"/>
<path d="M193.2,353.5L209.5,353.2L209.5,359.4L194.0,359.3L186.1,358.5L180.5,357.5L179.3,357.0L179.1,356.5L179.7,356.0L181.1,355.5L186.0,354.5L193.2,353.5Z" fill="#da7f60" fill-rule="evenodd"/>
<path d="M205.1,340.0L209.5,339.8L209.5,351.6L200.0,351.9L185.5,351.2L180.5,350.6L176.9,350.0L175.0,349.4L174.1,349.0L173.6,348.5L173.7,348.0L174.1,347.5L176.0,346.5L182.3,344.5L199.5,340.6L205.1,340.0ZM178.0,360.5L187.5,360.1L209.5,360.3L209.5,369.1L194.0,368.8L179.5,366.8L170.8,365.0L168.2,364.0L167.7,363.5L167.7,363.0L168.2,362.5L169.4,362.0L171.5,361.4L178.0,360.5Z" fill="#4030d3" fill-rule="evenodd"/>
<path d="M204.3,353.5L209.5,353.4L209.5,359.3L194.0,359.2L185.1,358.0L183.1,357.5L182.1,357.0L181.9,356.5L183.0,355.8L185.8,355.0L193.5,353.7L204.3,353.5Z" fill="#d35930" fill-rule="evenodd"/>
<path d="M205.3,340.5L209.5,340.3L209.5,351.3L200.0,351.6L188.0,350.8L183.5,350.2L180.2,349.5L178.8,349.0L178.1,348.5L177.9,348.0L178.1,347.5L179.5,346.5L182.0,345.5L186.0,344.3L199.5,341.1L205.3,340.5ZM183.8,360.5L191.0,360.3L209.5,360.4L209.5,368.6L194.0,368.4L182.5,366.6L174.9,365.0L172.4,364.0L171.9,363.5L172.0,363.0L172.5,362.5L173.7,362.0L176.5,361.3L183.8,360.5Z" fill="#1400cc" fill-rule="evenodd"/>
<path d="M193.1,354.0L194.0,353.9L209.5,353.6L209.5,359.2L194.0,359.1L189.0,358.4L185.1,357.5L184.1,357.0L184.0,356.5L184.6,356.0L187.7,355.0L193.1,354.0Z" fill="#cc3300" fill-rule="evenodd"/>
<path d="M50.5,346.8 C55.5,346.4 69.8,345.2 80.5,344.5 C91.2,343.8 102.8,343.1 114.5,342.5 C126.2,341.9 135.0,341.6 150.5,341.0 C166.0,340.4 198.0,339.1 207.5,338.7" fill="none" stroke="#000" stroke-width="1.35" stroke-dasharray="11,7"/>
<path d="M50.5,358.1 C55.5,357.8 69.8,357.1 80.5,356.5 C91.2,355.9 102.8,355.3 114.5,354.8 C126.2,354.3 135.0,354.2 150.5,353.5 C166.0,352.8 198.0,351.2 207.5,350.7" fill="none" stroke="#808080" stroke-width="2.2" stroke-dasharray="9,9"/>
</g>
<rect x="50.5" y="320.5" width="157.0" height="53.0" fill="none" stroke="#000" stroke-width="1"/>
<line x1="93.3" y1="320.5" x2="93.3" y2="322.5" stroke="#000" stroke-width="1"/>
<line x1="93.3" y1="373.5" x2="93.3" y2="371.5" stroke="#000" stroke-width="1"/>
<line x1="150.4" y1="320.5" x2="150.4" y2="322.5" stroke="#000" stroke-width="1"/>
<line x1="150.4" y1="373.5" x2="150.4" y2="371.5" stroke="#000" stroke-width="1"/>
<line x1="50.5" y1="347.0" x2="52.5" y2="347.0" stroke="#000" stroke-width="1"/>
<line x1="207.5" y1="347.0" x2="205.5" y2="347.0" stroke="#000" stroke-width="1"/>
<text x="9" y="312.7" font-size="14.5">(<tspan font-style="italic">j</tspan>)</text>
<text x="45.5" y="324.3" font-size="11.5" text-anchor="end">10</text>
<text x="46.5" y="350.3" font-size="11.5" text-anchor="end">5</text>
<text x="21.5" y="351.0" font-size="13" font-style="italic">y</text>
<rect x="230.5" y="320.5" width="157.0" height="53.0" fill="#f2f2f2"/>
<g clip-path="url(#cp31)">
<path d="M384.9,337.5L387.5,337.1L389.5,337.1L389.5,350.8L378.5,350.8L356.0,351.9L339.5,352.3L331.5,352.1L325.5,351.8L321.5,351.2L320.9,351.0L320.2,350.5L320.4,350.0L321.3,349.5L324.1,348.5L334.0,346.2L353.0,342.7L384.9,337.5ZM337.7,359.5L348.0,359.1L360.5,359.0L369.0,359.2L378.5,360.0L389.5,360.1L389.5,371.9L368.0,371.3L333.5,367.7L323.0,366.3L316.2,365.0L313.5,364.0L313.1,363.5L313.5,363.0L314.0,362.8L316.5,362.0L325.5,360.6L337.7,359.5Z" fill="#c4c0e9" fill-rule="evenodd"/>
<path d="M374.1,351.5L378.5,351.2L389.5,351.1L389.5,359.9L378.5,359.8L368.5,358.9L353.4,358.0L344.5,357.0L342.6,356.5L341.9,356.0L342.2,355.5L343.5,355.0L348.7,354.0L359.0,352.8L374.1,351.5Z" fill="#e9cac0" fill-rule="evenodd"/>
<path d="M387.5,338.5L389.5,338.5L389.5,350.5L378.5,350.5L364.5,350.8L354.5,350.7L349.1,350.5L344.5,350.0L342.0,349.5L341.1,349.0L341.1,348.5L342.7,347.5L345.7,346.5L351.0,345.2L368.0,341.8L387.5,338.5ZM365.4,359.5L369.0,359.5L378.5,360.2L389.5,360.3L389.5,370.4L369.0,369.9L358.5,368.7L347.0,367.2L339.0,365.9L335.1,365.0L333.8,364.5L333.0,364.0L332.9,363.5L333.4,363.0L334.0,362.7L336.3,362.0L344.0,360.7L354.0,359.9L365.4,359.5Z" fill="#9890e2" fill-rule="evenodd"/>
<path d="M378.3,351.5L389.5,351.4L389.5,359.7L378.5,359.6L362.4,358.0L355.6,357.0L354.0,356.5L353.3,356.0L353.4,355.5L354.3,355.0L359.0,353.8L367.0,352.7L378.3,351.5Z" fill="#e2a490" fill-rule="evenodd"/>
<path d="M385.5,339.5L387.5,339.2L389.5,339.2L389.5,350.1L370.0,350.2L361.0,349.9L356.0,349.5L353.0,349.1L351.1,348.5L350.7,348.0L351.0,347.5L352.9,346.5L359.0,344.7L370.5,342.3L385.5,339.5ZM362.8,360.0L368.5,359.8L378.5,360.4L389.5,360.5L389.5,369.5L368.5,369.0L352.5,366.8L347.9,366.0L344.0,365.0L342.8,364.5L342.2,364.0L342.1,363.5L342.7,363.0L343.5,362.6L345.6,362.0L353.0,360.8L362.8,360.0Z" fill="#6c60da" fill-rule="evenodd"/>
<path d="M376.4,352.0L379.0,351.7L389.5,351.7L389.5,359.5L378.0,359.4L363.3,357.5L360.9,357.0L359.4,356.5L358.7,356.0L358.8,355.5L359.6,355.0L362.9,354.0L368.6,353.0L376.4,352.0Z" fill="#da7f60" fill-rule="evenodd"/>
<path d="M385.8,340.0L387.5,339.8L389.5,339.8L389.5,349.8L373.5,349.7L365.5,349.3L361.8,349.0L358.9,348.5L357.5,348.0L357.1,347.5L357.3,347.0L359.2,346.0L364.0,344.5L373.5,342.4L385.8,340.0ZM362.4,360.5L369.0,360.1L378.5,360.7L389.5,360.7L389.5,368.8L368.5,368.4L357.5,366.8L351.0,365.3L348.8,364.5L348.2,364.0L348.2,363.5L349.5,362.7L351.8,362.0L354.3,361.5L362.4,360.5Z" fill="#4030d3" fill-rule="evenodd"/>
<path d="M381.9,352.0L389.5,351.9L389.5,359.3L378.5,359.2L366.6,357.5L364.4,357.0L363.0,356.5L362.4,356.0L362.4,355.5L363.1,355.0L364.4,354.5L368.0,353.6L378.5,352.1L381.9,352.0Z" fill="#d35930" fill-rule="evenodd"/>
<path d="M385.5,340.5L387.5,340.2L389.5,340.2L389.5,349.5L376.5,349.3L369.0,348.9L365.6,348.5L363.2,348.0L362.1,347.5L361.9,347.0L362.2,346.5L363.0,346.0L367.3,344.5L374.5,342.7L385.5,340.5ZM367.6,360.5L379.0,360.9L389.5,361.0L389.5,368.3L368.5,367.9L360.0,366.5L354.3,365.0L353.2,364.5L352.7,364.0L352.8,363.5L353.4,363.0L354.6,362.5L359.5,361.4L367.6,360.5Z" fill="#1400cc" fill-rule="evenodd"/>
<path d="M377.2,352.5L379.0,352.3L389.5,352.2L389.5,359.1L378.5,359.0L370.0,357.7L367.0,357.0L365.7,356.5L365.1,356.0L365.1,355.5L365.8,355.0L367.1,354.5L371.1,353.5L377.2,352.5Z" fill="#cc3300" fill-rule="evenodd"/>
<path d="M230.5,346.8 C235.5,346.4 249.8,345.2 260.5,344.5 C271.2,343.8 282.8,343.1 294.5,342.5 C306.2,341.9 315.0,341.6 330.5,341.0 C346.0,340.4 378.0,339.1 387.5,338.7" fill="none" stroke="#000" stroke-width="1.35" stroke-dasharray="11,7"/>
<path d="M230.5,358.1 C235.5,357.8 249.8,357.1 260.5,356.5 C271.2,355.9 282.8,355.3 294.5,354.8 C306.2,354.3 315.0,354.2 330.5,353.5 C346.0,352.8 378.0,351.2 387.5,350.7" fill="none" stroke="#808080" stroke-width="2.2" stroke-dasharray="9,9"/>
</g>
<rect x="230.5" y="320.5" width="157.0" height="53.0" fill="none" stroke="#000" stroke-width="1"/>
<line x1="273.3" y1="320.5" x2="273.3" y2="322.5" stroke="#000" stroke-width="1"/>
<line x1="273.3" y1="373.5" x2="273.3" y2="371.5" stroke="#000" stroke-width="1"/>
<line x1="330.4" y1="320.5" x2="330.4" y2="322.5" stroke="#000" stroke-width="1"/>
<line x1="330.4" y1="373.5" x2="330.4" y2="371.5" stroke="#000" stroke-width="1"/>
<line x1="230.5" y1="347.0" x2="232.5" y2="347.0" stroke="#000" stroke-width="1"/>
<line x1="387.5" y1="347.0" x2="385.5" y2="347.0" stroke="#000" stroke-width="1"/>
<text x="231.0" y="312.7" font-size="14.5">(<tspan font-style="italic">k</tspan>)</text>
<rect x="410.5" y="320.5" width="157.0" height="53.0" fill="#f2f2f2"/>
<g clip-path="url(#cp32)">
<path d="M566.1,338.5L567.5,338.4L567.5,338.5L567.8,341.0L567.5,343.6L520.5,349.5L507.2,351.0L470.5,354.3L465.0,354.1L461.5,353.5L460.0,353.0L459.3,352.5L458.9,352.0L458.9,351.5L459.4,350.5L460.0,350.0L461.9,349.0L465.5,347.8L470.5,346.8L510.5,343.7L566.1,338.5ZM487.3,361.0L510.5,360.9L524.5,361.5L546.5,363.0L564.7,364.0L567.5,364.2L567.6,366.0L567.5,367.0L561.5,367.4L540.5,368.3L510.5,369.0L470.5,367.7L462.0,366.9L457.0,366.0L455.6,365.5L454.8,365.0L454.6,364.5L454.8,364.0L455.6,363.5L459.5,362.5L466.5,361.7L472.5,361.3L487.3,361.0Z" fill="#c4c0e9" fill-rule="evenodd"/>
<path d="M556.9,348.0L569.5,347.6L569.5,364.4L568.0,364.4L567.5,363.1L546.0,362.3L524.5,360.6L495.3,359.0L487.5,358.3L485.3,358.0L483.7,357.5L483.6,357.0L484.7,356.5L486.6,356.0L492.1,355.0L503.5,353.4L524.5,350.7L544.0,348.7L556.9,348.0Z" fill="#e9cac0" fill-rule="evenodd"/>
<path d="M496.4,362.5L510.5,362.1L524.5,362.7L538.0,363.5L543.3,364.0L546.6,364.5L548.1,365.0L546.4,365.5L540.5,366.1L511.0,367.1L494.5,366.5L479.2,365.5L475.6,365.0L474.5,364.5L475.7,364.0L479.3,363.5L496.4,362.5Z" fill="#9890e2" fill-rule="evenodd"/>
<path d="M550.8,349.5L569.5,349.0L569.5,363.0L568.0,363.0L567.5,362.4L546.0,361.8L515.1,359.0L505.0,357.7L502.4,357.0L502.1,356.5L502.7,356.0L505.8,355.0L512.0,353.8L522.0,352.3L546.0,349.6L550.8,349.5Z" fill="#e2a490" fill-rule="evenodd"/>
<path d="M508.3,364.0L510.5,363.8L513.1,364.0L515.7,364.5L513.9,365.0L510.5,365.3L507.9,365.0L506.3,364.5L508.3,364.0Z" fill="#6c60da" fill-rule="evenodd"/>
<path d="M560.0,350.0L569.5,349.8L569.5,362.2L568.0,362.2L567.5,361.9L545.5,361.3L518.5,358.3L513.8,357.5L512.2,357.0L511.4,356.5L511.5,356.0L512.4,355.5L513.8,355.0L518.0,354.0L525.0,352.8L546.0,350.3L560.0,350.0Z" fill="#da7f60" fill-rule="evenodd"/>
<path d="M562.8,350.5L569.5,350.4L569.5,361.6L568.0,361.6L567.5,361.4L546.5,360.9L540.5,360.3L530.0,359.1L522.0,357.8L518.6,357.0L517.7,356.5L517.6,356.0L518.1,355.5L519.3,355.0L524.5,353.7L538.5,351.7L546.5,350.8L562.8,350.5Z" fill="#d35930" fill-rule="evenodd"/>
<path d="M561.1,351.0L569.5,350.9L569.5,361.1L546.0,360.5L535.0,359.2L527.5,358.0L523.5,357.0L522.5,356.5L522.2,356.0L522.6,355.5L523.6,355.0L526.5,354.2L531.5,353.3L539.0,352.2L546.5,351.3L561.1,351.0Z" fill="#cc3300" fill-rule="evenodd"/>
<path d="M410.5,346.8 C415.5,346.4 429.8,345.2 440.5,344.5 C451.2,343.8 462.8,343.1 474.5,342.5 C486.2,341.9 495.0,341.6 510.5,341.0 C526.0,340.4 558.0,339.1 567.5,338.7" fill="none" stroke="#000" stroke-width="1.35" stroke-dasharray="11,7"/>
<path d="M410.5,358.1 C415.5,357.8 429.8,357.1 440.5,356.5 C451.2,355.9 462.8,355.3 474.5,354.8 C486.2,354.3 495.0,354.2 510.5,353.5 C526.0,352.8 558.0,351.2 567.5,350.7" fill="none" stroke="#808080" stroke-width="2.2" stroke-dasharray="9,9"/>
</g>
<rect x="410.5" y="320.5" width="157.0" height="53.0" fill="none" stroke="#000" stroke-width="1"/>
<line x1="453.3" y1="320.5" x2="453.3" y2="322.5" stroke="#000" stroke-width="1"/>
<line x1="453.3" y1="373.5" x2="453.3" y2="371.5" stroke="#000" stroke-width="1"/>
<line x1="510.4" y1="320.5" x2="510.4" y2="322.5" stroke="#000" stroke-width="1"/>
<line x1="510.4" y1="373.5" x2="510.4" y2="371.5" stroke="#000" stroke-width="1"/>
<line x1="410.5" y1="347.0" x2="412.5" y2="347.0" stroke="#000" stroke-width="1"/>
<line x1="567.5" y1="347.0" x2="565.5" y2="347.0" stroke="#000" stroke-width="1"/>
<text x="411.0" y="312.7" font-size="14.5">(<tspan font-style="italic">l</tspan>)</text>
<rect x="50.5" y="399.5" width="157.0" height="52.0" fill="#f2f2f2"/>
<g clip-path="url(#cp40)">
<path d="M203.6,415.5L207.5,415.0L209.5,415.0L209.5,447.8L194.5,447.9L183.0,447.2L162.0,445.7L154.0,444.8L149.1,444.0L147.0,443.5L145.8,443.0L145.4,442.5L145.8,442.0L146.9,441.5L149.5,440.8L154.0,440.1L170.6,438.0L171.3,437.5L168.9,437.0L164.9,436.5L147.0,434.7L139.5,433.7L135.5,432.8L134.3,432.0L134.1,431.5L134.0,430.0L134.2,429.0L135.5,428.0L138.1,427.0L144.5,425.4L169.5,420.2L178.0,418.7L203.6,415.5Z" fill="#e9cac0" fill-rule="evenodd"/>
<path d="M203.7,416.5L207.5,416.0L209.5,416.0L209.5,446.8L194.5,446.9L191.5,446.7L173.5,445.2L167.0,444.3L162.8,443.5L161.4,443.0L160.8,442.5L161.0,442.0L161.9,441.5L163.6,441.0L170.0,439.8L184.1,438.0L186.0,437.5L183.1,437.0L179.0,436.9L168.5,435.8L155.1,434.0L152.0,433.4L149.5,432.5L148.8,432.0L148.2,431.0L148.2,428.5L148.6,427.5L149.1,427.0L152.4,425.5L157.0,424.1L169.5,421.2L179.0,419.4L203.7,416.5Z" fill="#e2a490" fill-rule="evenodd"/>
<path d="M204.5,417.0L207.5,416.6L209.5,416.6L209.5,446.3L194.0,446.3L178.5,444.9L173.5,444.2L170.1,443.5L168.5,442.9L168.0,442.5L168.1,442.0L169.5,441.3L172.7,440.5L178.0,439.6L194.0,437.6L201.5,437.0L192.0,436.5L179.0,436.2L170.0,435.3L163.0,434.3L158.5,433.3L156.3,432.5L155.5,432.0L154.9,431.0L154.8,428.0L155.2,427.0L155.6,426.5L158.4,425.0L163.2,423.5L170.5,421.7L179.0,419.9L204.5,417.0Z" fill="#da7f60" fill-rule="evenodd"/>
<path d="M204.1,417.5L207.5,417.1L209.5,417.1L209.5,436.1L179.0,435.8L170.5,434.8L163.6,433.5L160.7,432.5L159.9,432.0L159.3,431.0L159.1,428.0L159.6,426.5L160.8,425.5L161.7,425.0L165.8,423.5L170.5,422.2L179.0,420.3L204.1,417.5ZM204.3,438.0L209.5,437.9L209.5,445.9L194.5,445.9L191.5,445.7L183.0,444.8L178.0,444.1L175.0,443.5L173.4,443.0L172.7,442.5L172.8,442.0L173.5,441.5L175.0,441.0L182.0,439.7L194.5,438.1L204.3,438.0Z" fill="#d35930" fill-rule="evenodd"/>
<path d="M203.2,418.0L207.5,417.5L209.5,417.5L209.5,435.6L179.0,435.5L171.7,434.5L166.8,433.5L164.0,432.5L163.3,432.0L162.5,431.0L162.4,430.0L162.4,427.5L162.7,426.5L163.1,426.0L165.4,424.5L169.5,423.0L179.0,420.6L203.2,418.0ZM198.0,438.5L209.5,438.4L209.5,445.5L194.0,445.6L186.5,444.8L181.0,444.0L178.0,443.3L177.0,443.0L176.3,442.5L176.3,442.0L177.0,441.5L181.5,440.3L193.5,438.6L198.0,438.5Z" fill="#cc3300" fill-rule="evenodd"/>
<path d="M50.5,425.2 C55.5,424.8 69.8,423.5 80.5,422.8 C91.2,422.1 102.8,421.4 114.5,420.8 C126.2,420.2 135.0,419.8 150.5,419.1 C166.0,418.4 198.0,416.8 207.5,416.4" fill="none" stroke="#000" stroke-width="1.35" stroke-dasharray="11,7"/>
<path d="M50.5,436.2 C55.5,435.9 69.8,435.0 80.5,434.5 C91.2,434.0 102.8,433.5 114.5,433.0 C126.2,432.5 135.0,432.1 150.5,431.5 C166.0,430.9 198.0,429.7 207.5,429.3" fill="none" stroke="#808080" stroke-width="2.2" stroke-dasharray="9,9"/>
</g>
<rect x="50.5" y="399.5" width="157.0" height="52.0" fill="none" stroke="#000" stroke-width="1"/>
<line x1="93.3" y1="399.5" x2="93.3" y2="401.5" stroke="#000" stroke-width="1"/>
<line x1="93.3" y1="451.5" x2="93.3" y2="449.5" stroke="#000" stroke-width="1"/>
<line x1="150.4" y1="399.5" x2="150.4" y2="401.5" stroke="#000" stroke-width="1"/>
<line x1="150.4" y1="451.5" x2="150.4" y2="449.5" stroke="#000" stroke-width="1"/>
<line x1="50.5" y1="425.5" x2="52.5" y2="425.5" stroke="#000" stroke-width="1"/>
<line x1="207.5" y1="425.5" x2="205.5" y2="425.5" stroke="#000" stroke-width="1"/>
<text x="9" y="391.7" font-size="14.5">(<tspan font-style="italic">m</tspan>)</text>
<text x="45.5" y="403.3" font-size="11.5" text-anchor="end">10</text>
<text x="46.5" y="428.8" font-size="11.5" text-anchor="end">5</text>
<text x="21.5" y="429.5" font-size="13" font-style="italic">y</text>
<rect x="230.5" y="399.5" width="157.0" height="52.0" fill="#f2f2f2"/>
<g clip-path="url(#cp41)">
<path d="M386.5,413.0L389.5,412.8L389.5,448.4L368.0,447.2L346.0,445.8L333.0,444.6L325.8,443.5L324.1,443.0L323.5,442.5L324.1,442.0L326.0,441.5L335.0,440.2L354.9,438.5L358.2,438.0L357.9,437.5L354.8,437.0L329.0,434.2L321.0,433.2L317.5,432.5L316.0,432.0L315.3,431.5L315.1,431.0L315.1,429.0L315.3,428.5L315.8,428.0L317.9,427.0L323.1,425.5L350.5,419.3L368.5,415.7L386.5,413.0Z" fill="#e9cac0" fill-rule="evenodd"/>
<path d="M383.9,414.5L387.5,414.0L389.5,414.0L389.5,447.3L362.0,445.3L354.0,444.4L348.3,443.5L346.7,443.0L346.1,442.5L346.7,442.0L348.3,441.5L354.5,440.5L372.9,438.5L374.9,438.0L372.9,437.5L350.5,435.1L339.6,433.5L336.5,432.8L334.0,432.0L333.2,431.5L332.6,430.5L332.5,428.0L332.7,427.0L333.0,426.5L333.6,426.0L335.4,425.0L339.7,423.5L350.5,420.7L370.5,416.4L383.9,414.5Z" fill="#e2a490" fill-rule="evenodd"/>
<path d="M385.1,415.0L387.5,414.7L389.5,414.7L389.5,446.7L376.0,445.7L364.7,444.5L358.7,443.5L357.2,443.0L356.7,442.5L357.2,442.0L358.0,441.7L361.2,441.0L367.5,440.2L383.1,438.5L386.4,438.0L387.5,437.5L383.8,437.0L370.5,436.5L351.5,434.3L347.3,433.5L343.5,432.5L341.5,431.5L340.8,430.5L340.6,427.5L341.0,426.0L341.9,425.0L342.7,424.5L346.2,423.0L354.0,420.7L370.0,417.1L385.1,415.0Z" fill="#da7f60" fill-rule="evenodd"/>
<path d="M385.3,415.5L387.5,415.2L389.5,415.2L389.5,436.4L370.5,436.0L360.0,434.7L354.5,433.9L350.5,433.0L347.8,432.0L347.0,431.5L346.2,430.5L346.0,429.5L345.9,427.5L346.0,426.5L346.3,425.5L347.2,424.5L347.9,424.0L351.2,422.5L358.5,420.3L370.5,417.4L385.3,415.5ZM385.2,439.0L389.5,438.6L389.5,446.2L378.0,445.2L370.0,444.3L365.6,443.5L364.1,443.0L363.6,442.5L364.1,442.0L364.5,441.9L368.1,441.0L374.0,440.2L385.2,439.0Z" fill="#d35930" fill-rule="evenodd"/>
<path d="M384.9,416.0L387.5,415.7L389.5,415.7L389.5,435.8L370.5,435.6L365.0,434.9L359.3,434.0L354.7,433.0L351.9,432.0L351.1,431.5L350.2,430.5L350.0,429.5L349.9,427.0L350.0,426.0L350.4,425.0L351.3,424.0L352.1,423.5L354.1,422.5L360.1,420.5L370.5,417.8L384.9,416.0ZM385.2,439.5L389.5,439.1L389.5,445.8L380.0,444.9L373.2,444.0L370.0,443.3L369.3,443.0L368.8,442.5L369.3,442.0L370.0,441.7L373.2,441.0L385.2,439.5Z" fill="#cc3300" fill-rule="evenodd"/>
<path d="M230.5,425.2 C235.5,424.8 249.8,423.5 260.5,422.8 C271.2,422.1 282.8,421.4 294.5,420.8 C306.2,420.2 315.0,419.8 330.5,419.1 C346.0,418.4 378.0,416.8 387.5,416.4" fill="none" stroke="#000" stroke-width="1.35" stroke-dasharray="11,7"/>
<path d="M230.5,436.2 C235.5,435.9 249.8,435.0 260.5,434.5 C271.2,434.0 282.8,433.5 294.5,433.0 C306.2,432.5 315.0,432.1 330.5,431.5 C346.0,430.9 378.0,429.7 387.5,429.3" fill="none" stroke="#808080" stroke-width="2.2" stroke-dasharray="9,9"/>
</g>
<rect x="230.5" y="399.5" width="157.0" height="52.0" fill="none" stroke="#000" stroke-width="1"/>
<line x1="273.3" y1="399.5" x2="273.3" y2="401.5" stroke="#000" stroke-width="1"/>
<line x1="273.3" y1="451.5" x2="273.3" y2="449.5" stroke="#000" stroke-width="1"/>
<line x1="330.4" y1="399.5" x2="330.4" y2="401.5" stroke="#000" stroke-width="1"/>
<line x1="330.4" y1="451.5" x2="330.4" y2="449.5" stroke="#000" stroke-width="1"/>
<line x1="230.5" y1="425.5" x2="232.5" y2="425.5" stroke="#000" stroke-width="1"/>
<line x1="387.5" y1="425.5" x2="385.5" y2="425.5" stroke="#000" stroke-width="1"/>
<text x="231.0" y="391.7" font-size="14.5">(<tspan font-style="italic">n</tspan>)</text>
<rect x="410.5" y="399.5" width="157.0" height="52.0" fill="#f2f2f2"/>
<g clip-path="url(#cp42)">
<path d="M565.2,404.0L567.5,403.5L567.6,404.0L567.8,406.0L567.9,410.0L567.8,412.5L567.5,414.0L548.5,418.5L542.1,420.5L540.2,421.5L540.3,422.0L541.5,422.4L545.5,423.0L556.8,424.0L567.5,424.6L567.9,427.5L568.0,433.5L567.9,445.0L567.5,448.3L525.5,447.8L489.5,446.8L479.5,446.1L471.0,445.1L466.5,444.0L465.4,443.5L464.8,443.0L464.5,442.5L464.6,442.0L465.5,441.3L468.5,440.2L473.0,439.3L482.7,438.0L485.1,437.5L486.1,437.0L485.9,436.5L484.9,436.0L477.2,433.5L476.0,432.8L475.2,432.0L475.0,431.5L475.3,430.5L477.3,428.0L477.3,427.0L476.7,425.5L476.9,424.5L478.0,423.5L479.0,423.0L482.5,422.0L487.5,421.2L500.0,417.7L511.0,415.2L529.5,411.3L565.2,404.0Z" fill="#e9cac0" fill-rule="evenodd"/>
<path d="M567.1,406.0L567.5,405.9L567.6,407.0L567.5,411.2L530.5,418.5L524.0,419.6L508.3,422.0L502.5,422.6L500.5,422.6L499.9,422.5L499.7,422.0L500.4,421.5L501.7,421.0L508.4,419.0L516.3,417.0L530.5,413.7L567.1,406.0ZM554.7,428.5L567.5,428.4L567.8,434.5L567.8,443.5L567.5,446.3L530.5,445.7L499.5,444.7L489.2,444.0L486.0,443.4L484.9,443.0L484.4,442.5L484.9,442.0L486.6,441.5L490.5,440.9L511.7,439.5L515.9,439.0L518.0,438.5L518.6,438.0L517.9,437.5L516.4,437.0L504.9,434.5L501.7,433.5L500.7,433.0L500.2,432.5L500.5,432.0L501.4,431.5L503.3,431.0L511.5,430.0L526.5,429.2L539.0,428.8L554.7,428.5Z" fill="#e2a490" fill-rule="evenodd"/>
<path d="M566.5,430.5L567.5,430.5L567.6,431.5L567.5,444.7L530.5,443.8L521.6,443.0L520.2,442.5L521.9,442.0L526.0,441.5L545.2,440.0L548.4,439.5L549.8,439.0L549.8,438.5L548.6,438.0L546.4,437.5L533.4,435.5L528.2,434.5L526.6,434.0L526.1,433.5L526.7,433.0L527.5,432.8L532.4,432.0L538.6,431.5L549.2,431.0L566.5,430.5Z" fill="#da7f60" fill-rule="evenodd"/>
<path d="M565.6,433.0L567.5,432.9L567.5,436.6L561.9,435.5L560.0,435.0L559.0,434.5L559.2,434.0L561.3,433.5L565.6,433.0Z" fill="#d35930" fill-rule="evenodd"/>
<path d="M410.5,425.2 C415.5,424.8 429.8,423.5 440.5,422.8 C451.2,422.1 462.8,421.4 474.5,420.8 C486.2,420.2 495.0,419.8 510.5,419.1 C526.0,418.4 558.0,416.8 567.5,416.4" fill="none" stroke="#000" stroke-width="1.35" stroke-dasharray="11,7"/>
<path d="M410.5,436.2 C415.5,435.9 429.8,435.0 440.5,434.5 C451.2,434.0 462.8,433.5 474.5,433.0 C486.2,432.5 495.0,432.1 510.5,431.5 C526.0,430.9 558.0,429.7 567.5,429.3" fill="none" stroke="#808080" stroke-width="2.2" stroke-dasharray="9,9"/>
</g>
<rect x="410.5" y="399.5" width="157.0" height="52.0" fill="none" stroke="#000" stroke-width="1"/>
<line x1="453.3" y1="399.5" x2="453.3" y2="401.5" stroke="#000" stroke-width="1"/>
<line x1="453.3" y1="451.5" x2="453.3" y2="449.5" stroke="#000" stroke-width="1"/>
<line x1="510.4" y1="399.5" x2="510.4" y2="401.5" stroke="#000" stroke-width="1"/>
<line x1="510.4" y1="451.5" x2="510.4" y2="449.5" stroke="#000" stroke-width="1"/>
<line x1="410.5" y1="425.5" x2="412.5" y2="425.5" stroke="#000" stroke-width="1"/>
<line x1="567.5" y1="425.5" x2="565.5" y2="425.5" stroke="#000" stroke-width="1"/>
<text x="411.0" y="391.7" font-size="14.5">(<tspan font-style="italic">o</tspan>)</text>
<rect x="50.5" y="477.5" width="157.0" height="52.0" fill="#f2f2f2"/>
<g clip-path="url(#cp50)">
<path d="M205.4,493.5L209.5,493.3L209.5,514.3L168.0,515.0L156.5,513.8L145.5,511.8L142.0,510.9L139.1,510.0L138.0,509.4L137.0,508.5L136.9,508.0L137.1,507.5L138.2,506.5L140.0,505.5L143.0,504.3L153.0,501.3L168.5,497.3L205.4,493.5ZM190.5,523.5L194.5,523.4L209.5,523.5L209.5,528.1L194.0,528.1L181.5,527.1L176.7,526.5L174.5,526.0L173.8,525.5L174.6,525.0L177.2,524.5L182.0,524.0L190.5,523.5Z" fill="#c4c0e9" fill-rule="evenodd"/>
<path d="M198.2,515.0L209.5,514.8L209.5,523.0L184.5,522.5L165.0,521.8L147.5,520.4L142.0,519.7L139.8,519.0L140.0,518.5L142.0,517.9L146.5,517.3L153.0,516.7L198.2,515.0Z" fill="#e9cac0" fill-rule="evenodd"/>
<path d="M204.4,495.5L209.5,495.2L209.5,513.5L168.5,514.0L160.5,512.7L152.5,510.8L148.7,509.5L147.5,508.7L146.9,508.0L146.8,507.5L147.3,506.5L148.7,505.5L151.0,504.3L158.5,501.7L168.5,498.9L204.4,495.5ZM190.2,524.5L194.5,524.1L209.5,524.1L209.5,527.1L194.5,527.1L192.0,526.8L187.6,526.0L186.9,525.5L187.8,525.0L190.2,524.5Z" fill="#9890e2" fill-rule="evenodd"/>
<path d="M196.6,515.5L202.5,515.2L209.5,515.2L209.5,522.5L198.5,522.4L176.5,521.2L163.7,520.0L160.9,519.5L159.7,519.0L159.9,518.5L161.6,518.0L166.0,517.4L180.0,516.3L196.6,515.5Z" fill="#e2a490" fill-rule="evenodd"/>
<path d="M204.8,496.5L209.5,496.2L209.5,512.7L168.5,513.2L161.0,511.7L155.5,510.2L152.7,509.0L152.0,508.5L151.4,507.5L151.4,507.0L152.2,506.0L153.6,505.0L155.5,504.1L160.5,502.2L168.5,499.7L204.8,496.5ZM193.9,525.0L209.5,525.0L209.5,526.1L194.5,526.1L193.8,526.0L193.0,525.5L193.9,525.0Z" fill="#6c60da" fill-rule="evenodd"/>
<path d="M194.0,516.0L202.5,515.6L209.5,515.5L209.5,522.2L202.5,522.2L184.0,521.1L172.9,520.0L170.2,519.5L169.0,519.0L169.2,518.5L170.0,518.3L174.3,517.5L182.5,516.7L194.0,516.0Z" fill="#da7f60" fill-rule="evenodd"/>
<path d="M202.0,497.5L207.5,497.0L209.5,497.0L209.5,512.0L168.5,512.6L162.5,511.3L158.2,510.0L155.5,508.7L154.7,508.0L154.5,507.5L154.4,507.0L155.0,506.0L157.2,504.5L161.5,502.7L168.5,500.4L202.0,497.5Z" fill="#4030d3" fill-rule="evenodd"/>
<path d="M199.3,516.0L202.5,515.8L209.5,515.8L209.5,521.9L202.5,521.9L187.0,520.9L178.9,520.0L176.2,519.5L175.0,519.0L175.2,518.5L176.0,518.3L180.2,517.5L188.0,516.7L199.3,516.0Z" fill="#d35930" fill-rule="evenodd"/>
<path d="M203.4,498.0L209.5,497.7L209.5,511.3L168.5,512.1L163.5,510.9L160.0,509.7L157.6,508.5L156.8,507.5L156.7,507.0L157.1,506.0L159.2,504.5L163.0,502.8L168.5,500.9L203.4,498.0Z" fill="#1400cc" fill-rule="evenodd"/>
<path d="M195.6,516.5L202.5,516.0L209.5,516.0L209.5,521.6L202.5,521.6L190.5,520.8L183.4,520.0L180.7,519.5L179.5,519.0L179.7,518.5L183.0,517.7L195.6,516.5Z" fill="#cc3300" fill-rule="evenodd"/>
<path d="M50.5,503.2 C55.5,502.8 69.8,501.5 80.5,500.8 C91.2,500.1 102.8,499.4 114.5,498.8 C126.2,498.2 135.0,497.8 150.5,497.1 C166.0,496.4 198.0,494.8 207.5,494.4" fill="none" stroke="#000" stroke-width="1.35" stroke-dasharray="11,7"/>
<path d="M50.5,514.2 C55.5,513.9 69.8,513.0 80.5,512.5 C91.2,512.0 102.8,511.5 114.5,511.0 C126.2,510.5 135.0,510.1 150.5,509.5 C166.0,508.9 198.0,507.7 207.5,507.3" fill="none" stroke="#808080" stroke-width="2.2" stroke-dasharray="9,9"/>
</g>
<rect x="50.5" y="477.5" width="157.0" height="52.0" fill="none" stroke="#000" stroke-width="1"/>
<line x1="93.3" y1="477.5" x2="93.3" y2="479.5" stroke="#000" stroke-width="1"/>
<line x1="93.3" y1="529.5" x2="93.3" y2="527.5" stroke="#000" stroke-width="1"/>
<line x1="150.4" y1="477.5" x2="150.4" y2="479.5" stroke="#000" stroke-width="1"/>
<line x1="150.4" y1="529.5" x2="150.4" y2="527.5" stroke="#000" stroke-width="1"/>
<line x1="50.5" y1="503.5" x2="52.5" y2="503.5" stroke="#000" stroke-width="1"/>
<line x1="207.5" y1="503.5" x2="205.5" y2="503.5" stroke="#000" stroke-width="1"/>
<text x="9" y="469.7" font-size="14.5">(<tspan font-style="italic">p</tspan>)</text>
<text x="45.5" y="481.3" font-size="11.5" text-anchor="end">10</text>
<text x="46.5" y="506.8" font-size="11.5" text-anchor="end">5</text>
<text x="21.5" y="507.5" font-size="13" font-style="italic">y</text>
<rect x="230.5" y="477.5" width="157.0" height="52.0" fill="#f2f2f2"/>
<g clip-path="url(#cp51)">
<path d="M386.9,492.0L389.5,491.9L389.5,518.2L388.0,518.2L387.5,516.5L380.5,516.1L361.5,516.0L343.5,514.5L334.5,513.6L327.5,512.6L321.8,511.5L318.9,510.5L318.1,510.0L317.8,509.5L317.9,509.0L318.3,508.5L320.0,507.5L326.0,505.3L336.5,502.3L361.5,495.6L386.9,492.0ZM387.8,521.0L388.0,520.7L389.5,520.7L389.5,528.0L376.0,528.0L373.0,527.7L360.0,526.3L356.2,525.5L355.6,525.0L356.2,524.5L357.9,524.0L365.5,522.8L375.5,521.7L387.5,521.2L387.8,521.0Z" fill="#c4c0e9" fill-rule="evenodd"/>
<path d="M330.2,516.5L347.0,516.3L380.5,517.3L384.9,518.0L385.8,518.5L385.3,519.0L384.5,519.2L380.5,519.9L369.5,520.3L358.0,520.5L339.0,520.1L329.5,519.6L325.5,519.0L324.0,518.5L323.6,518.0L324.2,517.5L326.1,517.0L330.2,516.5Z" fill="#e9cac0" fill-rule="evenodd"/>
<path d="M384.9,494.5L387.5,494.2L389.5,494.2L389.5,515.8L388.0,515.8L387.5,515.4L383.5,515.3L361.5,515.2L354.0,514.3L344.0,512.8L337.0,511.4L333.0,510.0L332.0,509.4L331.5,508.5L332.1,507.5L333.6,506.5L338.3,504.5L347.0,501.7L361.5,497.5L384.9,494.5ZM387.1,523.0L389.5,523.0L389.5,526.0L376.0,526.1L373.2,525.5L372.2,525.0L372.2,524.5L373.1,524.0L376.0,523.3L387.1,523.0Z" fill="#9890e2" fill-rule="evenodd"/>
<path d="M386.5,495.5L389.5,495.4L389.5,514.6L380.5,514.5L361.5,514.5L352.5,513.1L344.5,511.4L340.0,510.0L338.5,509.1L338.0,508.5L337.9,508.0L338.5,507.0L339.9,506.0L342.5,504.8L349.5,502.2L361.5,498.5L386.5,495.5Z" fill="#6c60da" fill-rule="evenodd"/>
<path d="M385.6,496.5L389.5,496.3L389.5,513.7L361.5,513.9L353.0,512.3L347.0,510.8L343.6,509.5L342.8,509.0L342.1,508.0L342.2,507.5L342.9,506.5L344.4,505.5L346.4,504.5L352.5,502.2L361.5,499.3L385.6,496.5Z" fill="#4030d3" fill-rule="evenodd"/>
<path d="M383.2,497.5L387.5,497.0L389.5,497.0L389.5,513.0L361.5,513.3L354.5,511.9L349.5,510.5L346.5,509.2L345.6,508.5L345.3,508.0L345.3,507.5L345.8,506.5L347.1,505.5L349.0,504.5L354.5,502.3L361.5,499.9L383.2,497.5Z" fill="#1400cc" fill-rule="evenodd"/>
<path d="M230.5,503.2 C235.5,502.8 249.8,501.5 260.5,500.8 C271.2,500.1 282.8,499.4 294.5,498.8 C306.2,498.2 315.0,497.8 330.5,497.1 C346.0,496.4 378.0,494.8 387.5,494.4" fill="none" stroke="#000" stroke-width="1.35" stroke-dasharray="11,7"/>
<path d="M230.5,514.2 C235.5,513.9 249.8,513.0 260.5,512.5 C271.2,512.0 282.8,511.5 294.5,511.0 C306.2,510.5 315.0,510.1 330.5,509.5 C346.0,508.9 378.0,507.7 387.5,507.3" fill="none" stroke="#808080" stroke-width="2.2" stroke-dasharray="9,9"/>
</g>
<rect x="230.5" y="477.5" width="157.0" height="52.0" fill="none" stroke="#000" stroke-width="1"/>
<line x1="273.3" y1="477.5" x2="273.3" y2="479.5" stroke="#000" stroke-width="1"/>
<line x1="273.3" y1="529.5" x2="273.3" y2="527.5" stroke="#000" stroke-width="1"/>
<line x1="330.4" y1="477.5" x2="330.4" y2="479.5" stroke="#000" stroke-width="1"/>
<line x1="330.4" y1="529.5" x2="330.4" y2="527.5" stroke="#000" stroke-width="1"/>
<line x1="230.5" y1="503.5" x2="232.5" y2="503.5" stroke="#000" stroke-width="1"/>
<line x1="387.5" y1="503.5" x2="385.5" y2="503.5" stroke="#000" stroke-width="1"/>
<text x="231.0" y="469.7" font-size="14.5">(<tspan font-style="italic">q</tspan>)</text>
<rect x="410.5" y="477.5" width="157.0" height="52.0" fill="#f2f2f2"/>
<g clip-path="url(#cp52)">
<path d="M566.3,485.0L567.5,484.8L567.6,485.5L567.8,489.5L567.5,492.5L525.0,498.0L507.9,501.0L494.0,503.2L490.0,503.6L483.0,503.8L480.0,503.6L479.1,503.0L479.5,502.5L481.7,501.5L490.5,499.1L566.3,485.0ZM561.9,503.0L569.5,502.6L569.5,519.9L518.5,518.8L484.5,513.5L478.5,512.0L477.4,511.5L476.9,511.0L477.1,510.5L478.1,510.0L483.0,509.1L503.5,507.4L518.5,505.7L525.0,505.5L561.9,503.0ZM510.7,522.0L517.5,521.6L525.0,521.7L531.0,522.3L532.1,522.5L532.9,523.0L531.5,523.6L526.5,524.1L520.5,524.3L514.0,524.2L508.5,523.7L507.2,523.5L506.2,523.0L507.2,522.5L510.7,522.0Z" fill="#c4c0e9" fill-rule="evenodd"/>
<path d="M568.0,491.5L568.0,491.3L569.5,491.3L569.5,501.8L567.5,501.8L525.0,505.0L518.5,505.1L503.5,505.9L499.1,505.5L499.2,505.0L500.4,504.5L504.2,503.5L525.0,499.1L567.5,493.6L568.0,491.5ZM468.3,516.0L477.5,515.7L487.5,516.0L493.1,516.5L496.3,517.0L498.1,517.5L498.8,518.0L497.9,518.5L496.0,518.8L489.0,519.3L479.0,519.4L469.5,519.1L463.2,518.5L460.9,518.0L460.2,517.5L460.9,517.0L463.3,516.5L468.3,516.0Z" fill="#e9cac0" fill-rule="evenodd"/>
<path d="M566.8,488.0L567.5,487.9L567.5,490.8L547.8,493.0L544.5,493.1L543.3,493.0L549.2,491.5L566.8,488.0ZM564.7,503.5L569.5,503.3L569.5,518.3L518.5,517.6L503.5,515.5L498.4,514.5L492.5,513.0L490.3,512.0L489.9,511.5L490.0,511.0L490.8,510.5L495.0,509.5L518.5,506.2L525.0,506.0L564.7,503.5Z" fill="#9890e2" fill-rule="evenodd"/>
<path d="M567.9,494.0L568.0,493.6L569.5,493.6L569.5,500.7L567.5,500.7L525.0,504.3L516.7,504.0L515.0,503.5L515.3,503.0L517.9,502.0L525.0,500.1L567.5,494.8L567.9,494.0Z" fill="#e2a490" fill-rule="evenodd"/>
<path d="M566.2,504.0L569.5,503.9L569.5,517.4L518.5,516.9L503.5,514.7L497.7,513.0L496.1,512.0L495.9,511.5L496.3,511.0L497.3,510.5L499.5,509.9L509.0,508.1L518.5,506.6L566.2,504.0Z" fill="#6c60da" fill-rule="evenodd"/>
<path d="M568.0,495.5L569.5,495.5L569.5,499.3L567.5,499.2L525.0,503.3L523.5,503.0L523.1,502.5L523.5,502.0L525.0,501.4L567.5,496.2L568.0,495.5Z" fill="#da7f60" fill-rule="evenodd"/>
<path d="M566.5,504.5L569.5,504.4L569.5,516.7L518.5,516.4L510.0,515.1L504.1,514.0L501.3,513.0L500.4,512.5L499.9,512.0L500.0,511.5L500.5,511.0L503.0,510.1L509.0,508.7L518.5,507.0L566.5,504.5Z" fill="#4030d3" fill-rule="evenodd"/>
<path d="M565.6,505.0L569.5,504.9L569.5,516.2L518.5,516.0L511.5,514.9L507.2,514.0L504.0,513.0L503.2,512.5L502.9,512.0L503.0,511.5L503.7,511.0L506.1,510.0L511.0,508.7L518.5,507.3L565.6,505.0Z" fill="#1400cc" fill-rule="evenodd"/>
<path d="M410.5,503.2 C415.5,502.8 429.8,501.5 440.5,500.8 C451.2,500.1 462.8,499.4 474.5,498.8 C486.2,498.2 495.0,497.8 510.5,497.1 C526.0,496.4 558.0,494.8 567.5,494.4" fill="none" stroke="#000" stroke-width="1.35" stroke-dasharray="11,7"/>
<path d="M410.5,514.2 C415.5,513.9 429.8,513.0 440.5,512.5 C451.2,512.0 462.8,511.5 474.5,511.0 C486.2,510.5 495.0,510.1 510.5,509.5 C526.0,508.9 558.0,507.7 567.5,507.3" fill="none" stroke="#808080" stroke-width="2.2" stroke-dasharray="9,9"/>
</g>
<rect x="410.5" y="477.5" width="157.0" height="52.0" fill="none" stroke="#000" stroke-width="1"/>
<line x1="453.3" y1="477.5" x2="453.3" y2="479.5" stroke="#000" stroke-width="1"/>
<line x1="453.3" y1="529.5" x2="453.3" y2="527.5" stroke="#000" stroke-width="1"/>
<line x1="510.4" y1="477.5" x2="510.4" y2="479.5" stroke="#000" stroke-width="1"/>
<line x1="510.4" y1="529.5" x2="510.4" y2="527.5" stroke="#000" stroke-width="1"/>
<line x1="410.5" y1="503.5" x2="412.5" y2="503.5" stroke="#000" stroke-width="1"/>
<line x1="567.5" y1="503.5" x2="565.5" y2="503.5" stroke="#000" stroke-width="1"/>
<text x="411.0" y="469.7" font-size="14.5">(<tspan font-style="italic">r</tspan>)</text>
<text x="9" y="549.3" font-size="14.5">(<tspan font-style="italic">s</tspan>)</text>
<line x1="93.3" y1="557.5" x2="93.3" y2="671.5" stroke="#d9d9d9" stroke-width="1"/>
<line x1="150.4" y1="557.5" x2="150.4" y2="671.5" stroke="#d9d9d9" stroke-width="1"/>
<line x1="50.5" y1="614.5" x2="207.5" y2="614.5" stroke="#d9d9d9" stroke-width="1"/>
<g clip-path="url(#lp0)">
<path d="M50.5,614.5 C63.8,614.4 113.8,614.3 130.5,614.2 C147.2,614.1 143.8,613.9 150.5,613.9 C157.2,613.9 160.9,614.0 170.5,614.0 C180.1,614.0 201.8,614.0 208.0,614.0" fill="none" stroke="#ff0000" stroke-width="2"/>
<path d="M50.5,614.5 C68.8,614.5 140.1,614.3 160.5,614.7 C180.9,615.1 169.0,616.3 172.7,617.0 C176.4,617.7 178.7,617.9 182.9,618.7 C187.1,619.6 193.7,621.3 197.9,622.1 C202.1,622.9 206.3,623.3 208.0,623.6" fill="none" stroke="#ff0000" stroke-width="2.4" stroke-dasharray="8.5,5"/>
<path d="M50.5,614.5 C68.8,614.5 137.2,614.7 160.5,614.5 C183.8,614.3 182.6,613.9 190.5,613.5 C198.4,613.1 205.1,612.2 208.0,612.0" fill="none" stroke="#ff0000" stroke-width="2.6" stroke-dasharray="2.6,2.6"/>
<path d="M50.5,614.5 C67.1,614.5 129.8,614.8 150.0,614.5 C170.2,614.2 165.2,613.7 171.6,612.9 C178.0,612.0 182.1,610.6 188.2,609.5 C194.3,608.3 204.7,606.5 208.0,605.9" fill="none" stroke="#000000" stroke-width="2"/>
<path d="M50.5,614.5 C66.3,614.5 127.8,614.4 145.5,614.7 C163.2,615.0 153.4,615.7 156.6,616.2 C159.8,616.8 161.3,617.0 164.9,617.9 C168.5,618.9 173.5,619.6 178.2,622.1 C182.9,624.6 189.3,629.5 193.2,633.0 C197.1,636.5 199.0,640.0 201.5,643.1 C204.0,646.1 206.9,649.9 208.0,651.3" fill="none" stroke="#000000" stroke-width="2.4" stroke-dasharray="8.5,5"/>
<path d="M50.5,614.5 C67.2,614.5 130.3,614.9 150.5,614.5 C170.7,614.1 166.7,613.3 171.6,612.0 C176.5,610.6 177.1,608.6 179.9,606.5 C182.7,604.5 185.4,602.2 188.2,599.7 C191.0,597.1 194.1,594.2 196.6,591.1 C199.1,588.0 201.3,584.0 203.2,581.0 C205.1,578.0 207.2,574.4 208.0,573.1" fill="none" stroke="#000000" stroke-width="2.6" stroke-dasharray="2.6,2.6"/>
</g>
<rect x="50.5" y="557.5" width="157.0" height="114.0" fill="none" stroke="#000" stroke-width="1"/>
<line x1="93.3" y1="557.5" x2="93.3" y2="559.5" stroke="#000" stroke-width="1"/>
<line x1="93.3" y1="671.5" x2="93.3" y2="669.5" stroke="#000" stroke-width="1"/>
<line x1="150.4" y1="557.5" x2="150.4" y2="559.5" stroke="#000" stroke-width="1"/>
<line x1="150.4" y1="671.5" x2="150.4" y2="669.5" stroke="#000" stroke-width="1"/>
<text x="46.5" y="561.5" font-size="11.5" text-anchor="end">5</text>
<text x="46.5" y="618.0" font-size="11.5" text-anchor="end">0</text>
<text x="46.5" y="674.0" font-size="11.5" text-anchor="end">&#8722;5</text>
<text x="93.3" y="684.3" font-size="11.5" text-anchor="middle" letter-spacing="0.3">600</text>
<text x="150.4" y="684.3" font-size="11.5" text-anchor="middle" letter-spacing="0.3">800</text>
<text x="207.5" y="684.3" font-size="11.5" text-anchor="middle" letter-spacing="0.3">1000</text>
<text x="129.0" y="697.3" font-size="13" font-style="italic" text-anchor="middle">x</text>
<text x="54.5" y="666.0" font-size="11.5">&#215;10<tspan font-size="8.5" dy="-4">&#8722;6</tspan></text>
<text x="231.0" y="549.3" font-size="14.5">(<tspan font-style="italic">t</tspan>)</text>
<line x1="273.3" y1="557.5" x2="273.3" y2="671.5" stroke="#d9d9d9" stroke-width="1"/>
<line x1="330.4" y1="557.5" x2="330.4" y2="671.5" stroke="#d9d9d9" stroke-width="1"/>
<line x1="230.5" y1="614.5" x2="387.5" y2="614.5" stroke="#d9d9d9" stroke-width="1"/>
<g clip-path="url(#lp1)">
<path d="M230.5,614.2 C240.8,614.2 280.0,615.1 292.5,614.2 C305.0,613.3 301.3,610.9 305.3,609.1 C309.3,607.2 313.3,603.7 316.6,603.3 C319.9,602.9 322.6,605.3 324.9,606.9 C327.1,608.6 328.2,611.3 330.1,613.2 C332.0,615.1 333.8,617.1 336.2,618.3 C338.6,619.5 341.4,621.0 344.5,620.5 C347.6,619.9 350.7,616.9 354.8,615.2 C358.9,613.5 364.9,611.0 369.0,610.5 C373.1,610.0 376.1,610.9 379.3,612.2 C382.5,613.5 386.6,617.2 388.0,618.2" fill="none" stroke="#ff0000" stroke-width="2"/>
<path d="M230.5,614.2 C241.5,614.2 284.6,613.9 296.5,614.5 C308.4,615.1 300.2,616.3 302.2,617.8 C304.2,619.3 306.0,621.6 308.4,623.6 C310.8,625.6 314.0,629.3 316.6,629.8 C319.2,630.4 321.5,628.2 323.9,626.7 C326.3,625.2 329.1,622.5 331.1,621.0 C333.2,619.4 334.3,618.1 336.2,617.5 C338.1,617.0 340.4,617.0 342.5,617.5 C344.6,618.0 346.6,619.0 348.6,620.5 C350.7,621.9 352.2,623.6 354.8,626.2 C357.4,628.8 361.4,632.2 364.5,636.2 C367.6,640.2 370.8,645.9 373.5,650.3 C376.2,654.7 378.2,658.7 380.5,662.4 C382.8,666.1 385.9,670.8 387.0,672.5" fill="none" stroke="#ff0000" stroke-width="2.4" stroke-dasharray="8.5,5"/>
<path d="M230.5,614.2 C241.2,614.2 281.7,614.7 295.0,614.2 C308.3,613.7 304.6,612.4 310.5,611.5 C316.4,610.6 324.7,610.1 330.7,608.7 C336.7,607.4 342.0,605.2 346.7,603.5 C351.4,601.8 355.3,600.7 358.7,598.4 C362.1,596.1 364.4,593.4 367.3,589.7 C370.2,585.9 373.3,580.1 375.9,575.8 C378.5,571.4 380.9,567.2 382.8,563.7 C384.7,560.1 386.7,556.0 387.5,554.5" fill="none" stroke="#ff0000" stroke-width="2.6" stroke-dasharray="2.6,2.6"/>
<path d="M230.5,614.2 C240.8,614.2 279.2,614.6 292.5,614.2 C305.8,613.8 304.1,612.8 310.5,611.9 C316.9,610.9 324.6,610.0 330.6,608.4 C336.6,606.9 342.7,604.1 346.7,602.7 C350.7,601.3 351.9,600.8 354.8,600.2 C357.7,599.6 360.4,598.6 363.9,599.2 C367.4,599.7 371.9,600.9 375.9,603.5 C379.9,606.1 386.0,612.9 388.0,614.8" fill="none" stroke="#000000" stroke-width="2"/>
<path d="M230.5,614.2 C242.6,614.2 289.9,614.0 303.2,614.4 C316.5,614.8 307.6,615.7 310.5,616.3 C313.4,616.9 317.9,617.0 320.8,617.8 C323.7,618.7 325.4,620.1 328.0,621.5 C330.6,622.9 333.6,624.5 336.2,626.2 C338.8,627.9 341.3,629.7 343.5,631.9 C345.7,634.0 347.1,635.3 349.6,639.2 C352.1,643.2 356.4,651.0 358.7,655.6 C361.0,660.1 362.7,664.6 363.5,666.5" fill="none" stroke="#000000" stroke-width="2.4" stroke-dasharray="8.5,5"/>
<path d="M230.5,614.2 C241.2,614.2 280.8,614.6 295.0,614.2 C309.2,613.8 309.7,613.0 315.6,612.1 C321.5,611.1 326.3,610.0 330.6,608.4 C334.9,606.9 338.0,605.6 341.4,602.8 C344.8,600.0 347.8,596.5 350.7,591.8 C353.6,587.1 356.2,580.0 358.7,574.3 C361.2,568.6 364.1,561.2 365.6,557.6 C367.1,554.0 367.2,553.3 367.5,552.5" fill="none" stroke="#000000" stroke-width="2.6" stroke-dasharray="2.6,2.6"/>
</g>
<rect x="230.5" y="557.5" width="157.0" height="114.0" fill="none" stroke="#000" stroke-width="1"/>
<line x1="273.3" y1="557.5" x2="273.3" y2="559.5" stroke="#000" stroke-width="1"/>
<line x1="273.3" y1="671.5" x2="273.3" y2="669.5" stroke="#000" stroke-width="1"/>
<line x1="330.4" y1="557.5" x2="330.4" y2="559.5" stroke="#000" stroke-width="1"/>
<line x1="330.4" y1="671.5" x2="330.4" y2="669.5" stroke="#000" stroke-width="1"/>
<text x="273.3" y="684.3" font-size="11.5" text-anchor="middle" letter-spacing="0.3">600</text>
<text x="330.4" y="684.3" font-size="11.5" text-anchor="middle" letter-spacing="0.3">800</text>
<text x="387.5" y="684.3" font-size="11.5" text-anchor="middle" letter-spacing="0.3">1000</text>
<text x="309.0" y="697.3" font-size="13" font-style="italic" text-anchor="middle">x</text>
<text x="234.5" y="666.0" font-size="11.5">&#215;10<tspan font-size="8.5" dy="-4">&#8722;5</tspan></text>
<text x="411.0" y="549.3" font-size="14.5">(<tspan font-style="italic">u</tspan>)</text>
<line x1="453.3" y1="557.5" x2="453.3" y2="671.5" stroke="#d9d9d9" stroke-width="1"/>
<line x1="510.4" y1="557.5" x2="510.4" y2="671.5" stroke="#d9d9d9" stroke-width="1"/>
<line x1="410.5" y1="614.5" x2="567.5" y2="614.5" stroke="#d9d9d9" stroke-width="1"/>
<g clip-path="url(#lp2)">
<path d="M410.5,615.0 C414.7,614.8 428.5,614.0 435.5,613.8 C442.5,613.5 446.6,613.6 452.5,613.5 C458.4,613.4 465.9,614.6 470.6,613.2 C475.3,611.8 477.5,609.1 480.9,604.9 C484.3,600.8 487.8,593.1 491.2,588.3 C494.6,583.4 498.4,576.4 501.5,575.8 C504.6,575.1 507.1,577.9 509.8,584.1 C512.5,590.4 515.2,604.5 518.0,613.2 C520.8,621.8 523.2,630.7 526.3,636.1 C529.4,641.5 532.8,644.3 536.6,645.5 C540.4,646.7 543.8,645.3 549.0,643.4 C554.2,641.5 564.8,635.6 568.0,634.1" fill="none" stroke="#ff0000" stroke-width="2"/>
<path d="M410.5,615.0 C417.5,615.1 442.8,615.1 452.5,615.3 C462.2,615.5 464.6,614.6 468.6,616.3 C472.7,618.0 473.7,621.0 476.8,625.7 C479.9,630.4 483.7,638.6 487.1,644.5 C490.5,650.4 493.6,659.7 497.4,661.1 C501.2,662.5 505.7,657.2 509.8,652.7 C513.9,648.2 518.4,639.3 522.2,634.1 C526.0,628.9 528.7,624.2 532.5,621.6 C536.3,619.0 540.7,618.1 544.8,618.4 C548.9,618.8 553.3,620.7 557.2,623.6 C561.1,626.5 566.2,633.7 568.0,635.7" fill="none" stroke="#ff0000" stroke-width="2.4" stroke-dasharray="8.5,5"/>
<path d="M410.5,615.0 C417.5,615.1 442.5,615.6 452.5,615.3 C462.5,615.0 465.9,615.3 470.6,613.2 C475.3,611.1 477.8,605.1 480.9,602.8 C484.0,600.5 485.8,599.3 489.2,599.7 C492.6,600.0 497.7,605.1 501.5,604.9 C505.3,604.7 508.4,601.8 511.9,598.7 C515.4,595.5 518.8,589.7 522.2,586.2 C525.6,582.6 529.4,578.9 532.5,577.5 C535.6,576.1 537.6,577.3 540.7,577.9 C543.8,578.5 546.5,581.5 551.0,581.0 C555.5,580.5 565.2,575.8 568.0,574.8" fill="none" stroke="#ff0000" stroke-width="2.6" stroke-dasharray="2.6,2.6"/>
<path d="M410.5,615.0 C414.7,614.7 428.5,613.7 435.5,613.2 C442.5,612.7 446.8,612.3 452.7,611.8 C458.6,611.3 465.9,610.7 470.6,610.3 C475.3,609.8 477.5,609.3 480.9,609.0 C484.3,608.6 488.1,608.2 491.2,608.2 C494.3,608.3 497.1,608.6 499.5,609.1 C501.9,609.5 502.6,609.8 505.7,611.0 C508.8,612.2 513.5,614.2 518.0,616.3 C522.5,618.4 527.7,621.3 532.5,623.6 C537.3,625.8 541.0,627.4 546.9,629.8 C552.8,632.3 564.5,636.8 568.0,638.2" fill="none" stroke="#000000" stroke-width="2"/>
<path d="M410.5,615.0 C414.7,615.0 428.5,615.1 435.5,615.2 C442.5,615.3 447.3,615.1 452.5,615.5 C457.7,615.9 461.8,616.4 466.5,617.4 C471.2,618.4 475.1,619.7 480.9,621.6 C486.7,623.5 494.6,626.6 501.5,628.8 C508.4,631.1 515.3,633.5 522.2,635.1 C529.1,636.6 536.6,637.4 542.8,638.2 C549.0,639.1 555.1,640.2 559.3,640.2 C563.5,640.2 566.5,638.5 568.0,638.2" fill="none" stroke="#000000" stroke-width="2.4" stroke-dasharray="8.5,5"/>
<path d="M410.5,615.0 C414.7,615.0 428.5,615.1 435.5,615.2 C442.5,615.3 447.3,615.8 452.5,615.8 C457.7,615.8 461.8,616.1 466.5,615.3 C471.2,614.5 476.1,612.9 480.9,611.2 C485.7,609.4 490.2,607.9 495.4,604.9 C500.6,602.0 506.8,596.9 511.9,593.4 C517.0,590.0 521.8,586.7 526.3,584.1 C530.8,581.5 534.2,579.4 538.7,577.9 C543.2,576.4 548.2,575.8 553.1,575.2 C558.0,574.5 565.5,574.3 568.0,574.1" fill="none" stroke="#000000" stroke-width="2.6" stroke-dasharray="2.6,2.6"/>
</g>
<rect x="410.5" y="557.5" width="157.0" height="114.0" fill="none" stroke="#000" stroke-width="1"/>
<line x1="453.3" y1="557.5" x2="453.3" y2="559.5" stroke="#000" stroke-width="1"/>
<line x1="453.3" y1="671.5" x2="453.3" y2="669.5" stroke="#000" stroke-width="1"/>
<line x1="510.4" y1="557.5" x2="510.4" y2="559.5" stroke="#000" stroke-width="1"/>
<line x1="510.4" y1="671.5" x2="510.4" y2="669.5" stroke="#000" stroke-width="1"/>
<text x="453.3" y="684.3" font-size="11.5" text-anchor="middle" letter-spacing="0.3">600</text>
<text x="510.4" y="684.3" font-size="11.5" text-anchor="middle" letter-spacing="0.3">800</text>
<text x="567.5" y="684.3" font-size="11.5" text-anchor="middle" letter-spacing="0.3">1000</text>
<text x="489.0" y="697.3" font-size="13" font-style="italic" text-anchor="middle">x</text>
<text x="414.5" y="666.0" font-size="11.5">&#215;10<tspan font-size="8.5" dy="-4">&#8722;4</tspan></text>
<text transform="translate(23.5,613.8) rotate(-90)" font-size="15" text-anchor="middle"><tspan font-size="17" dy="1">&#8747;</tspan><tspan dy="-1" font-style="italic">P</tspan>, <tspan font-style="italic">D</tspan> + <tspan font-style="italic">T</tspan>, <tspan font-style="italic">N</tspan> d<tspan font-style="italic">y</tspan></text>
</svg></body></html>
